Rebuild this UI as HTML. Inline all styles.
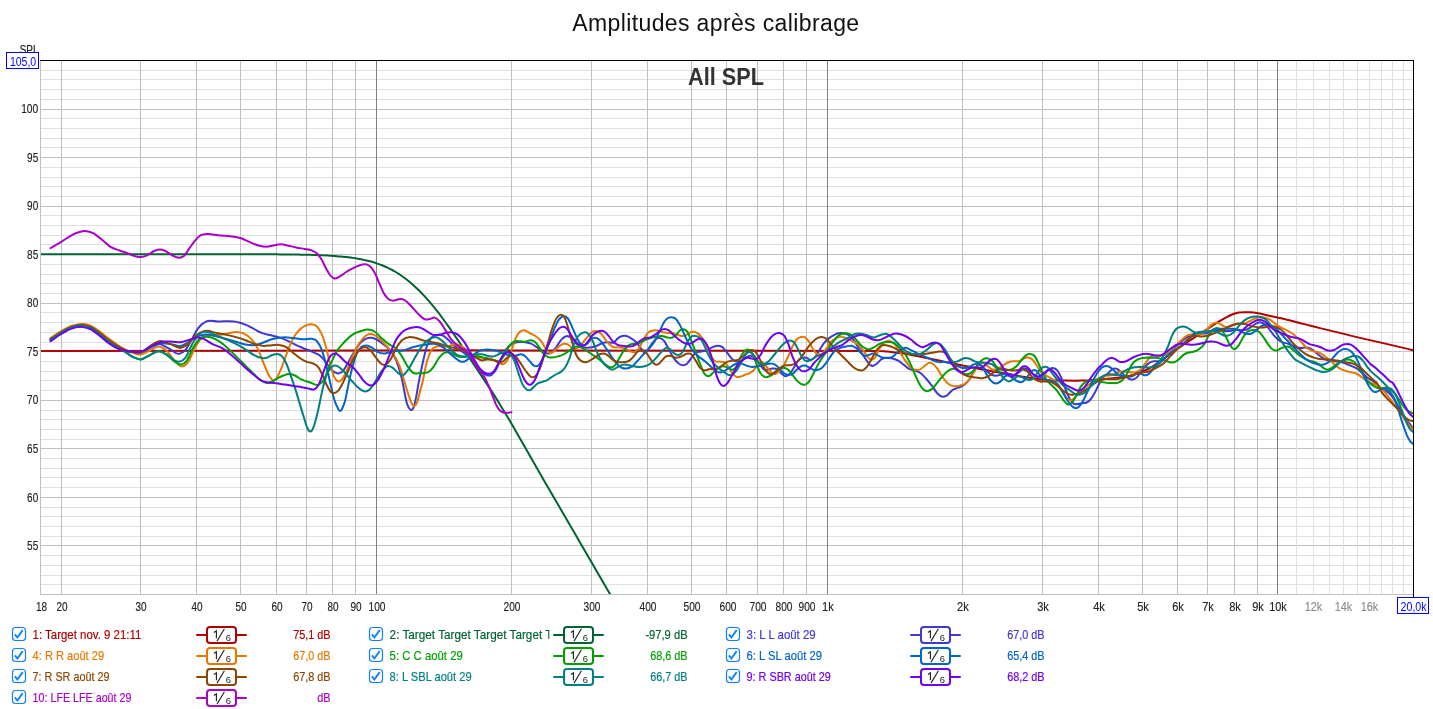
<!DOCTYPE html>
<html><head><meta charset="utf-8"><title>Amplitudes après calibrage</title>
<style>
html,body{margin:0;padding:0;background:#fff;}
body{width:1433px;height:709px;overflow:hidden;font-family:"Liberation Sans",sans-serif;}
svg{display:block;will-change:transform;font-family:"Liberation Sans",sans-serif;}
.ax{font-size:12.5px;fill:#222;stroke:#222;stroke-width:0.15px;}
.ax.g{fill:#8c8c8c;stroke:#8c8c8c;}
.lg{font-size:12.8px;stroke-width:0.18px;}
.cv path{fill:none;stroke-width:2;stroke-linejoin:round;stroke-linecap:round;}
</style></head><body>
<svg width="1433" height="709" viewBox="0 0 1433 709">
<defs><clipPath id="pc"><rect x="41" y="61" width="1372" height="533"/></clipPath>
<clipPath id="c2"><rect x="380" y="620" width="169.5" height="30"/></clipPath></defs>
<rect width="1433" height="709" fill="#fff"/>
<text x="572.3" y="30.6" font-size="23" fill="#111" textLength="286.8" lengthAdjust="spacing">Amplitudes après calibrage</text>
<text x="19.7" y="53.8" font-size="12.5" fill="#222" stroke="#222" stroke-width="0.2" textLength="18.9" lengthAdjust="spacingAndGlyphs">SPL</text>
<g shape-rendering="crispEdges">
<line x1="40" x2="1413" y1="584.5" y2="584.5" stroke="#e0e0e0"/>
<line x1="40" x2="1413" y1="575.5" y2="575.5" stroke="#e0e0e0"/>
<line x1="40" x2="1413" y1="565.5" y2="565.5" stroke="#e0e0e0"/>
<line x1="40" x2="1413" y1="555.5" y2="555.5" stroke="#e0e0e0"/>
<line x1="40" x2="1413" y1="545.5" y2="545.5" stroke="#c0c0c0"/>
<line x1="40" x2="1413" y1="536.5" y2="536.5" stroke="#e0e0e0"/>
<line x1="40" x2="1413" y1="526.5" y2="526.5" stroke="#e0e0e0"/>
<line x1="40" x2="1413" y1="516.5" y2="516.5" stroke="#e0e0e0"/>
<line x1="40" x2="1413" y1="507.5" y2="507.5" stroke="#e0e0e0"/>
<line x1="40" x2="1413" y1="497.5" y2="497.5" stroke="#c0c0c0"/>
<line x1="40" x2="1413" y1="487.5" y2="487.5" stroke="#e0e0e0"/>
<line x1="40" x2="1413" y1="477.5" y2="477.5" stroke="#e0e0e0"/>
<line x1="40" x2="1413" y1="468.5" y2="468.5" stroke="#e0e0e0"/>
<line x1="40" x2="1413" y1="458.5" y2="458.5" stroke="#e0e0e0"/>
<line x1="40" x2="1413" y1="448.5" y2="448.5" stroke="#c0c0c0"/>
<line x1="40" x2="1413" y1="439.5" y2="439.5" stroke="#e0e0e0"/>
<line x1="40" x2="1413" y1="429.5" y2="429.5" stroke="#e0e0e0"/>
<line x1="40" x2="1413" y1="419.5" y2="419.5" stroke="#e0e0e0"/>
<line x1="40" x2="1413" y1="410.5" y2="410.5" stroke="#e0e0e0"/>
<line x1="40" x2="1413" y1="400.5" y2="400.5" stroke="#c0c0c0"/>
<line x1="40" x2="1413" y1="390.5" y2="390.5" stroke="#e0e0e0"/>
<line x1="40" x2="1413" y1="380.5" y2="380.5" stroke="#e0e0e0"/>
<line x1="40" x2="1413" y1="371.5" y2="371.5" stroke="#e0e0e0"/>
<line x1="40" x2="1413" y1="361.5" y2="361.5" stroke="#e0e0e0"/>
<line x1="40" x2="1413" y1="351.5" y2="351.5" stroke="#c0c0c0"/>
<line x1="40" x2="1413" y1="342.5" y2="342.5" stroke="#e0e0e0"/>
<line x1="40" x2="1413" y1="332.5" y2="332.5" stroke="#e0e0e0"/>
<line x1="40" x2="1413" y1="322.5" y2="322.5" stroke="#e0e0e0"/>
<line x1="40" x2="1413" y1="312.5" y2="312.5" stroke="#e0e0e0"/>
<line x1="40" x2="1413" y1="303.5" y2="303.5" stroke="#c0c0c0"/>
<line x1="40" x2="1413" y1="293.5" y2="293.5" stroke="#e0e0e0"/>
<line x1="40" x2="1413" y1="283.5" y2="283.5" stroke="#e0e0e0"/>
<line x1="40" x2="1413" y1="274.5" y2="274.5" stroke="#e0e0e0"/>
<line x1="40" x2="1413" y1="264.5" y2="264.5" stroke="#e0e0e0"/>
<line x1="40" x2="1413" y1="254.5" y2="254.5" stroke="#c0c0c0"/>
<line x1="40" x2="1413" y1="244.5" y2="244.5" stroke="#e0e0e0"/>
<line x1="40" x2="1413" y1="235.5" y2="235.5" stroke="#e0e0e0"/>
<line x1="40" x2="1413" y1="225.5" y2="225.5" stroke="#e0e0e0"/>
<line x1="40" x2="1413" y1="215.5" y2="215.5" stroke="#e0e0e0"/>
<line x1="40" x2="1413" y1="206.5" y2="206.5" stroke="#c0c0c0"/>
<line x1="40" x2="1413" y1="196.5" y2="196.5" stroke="#e0e0e0"/>
<line x1="40" x2="1413" y1="186.5" y2="186.5" stroke="#e0e0e0"/>
<line x1="40" x2="1413" y1="177.5" y2="177.5" stroke="#e0e0e0"/>
<line x1="40" x2="1413" y1="167.5" y2="167.5" stroke="#e0e0e0"/>
<line x1="40" x2="1413" y1="157.5" y2="157.5" stroke="#c0c0c0"/>
<line x1="40" x2="1413" y1="147.5" y2="147.5" stroke="#e0e0e0"/>
<line x1="40" x2="1413" y1="138.5" y2="138.5" stroke="#e0e0e0"/>
<line x1="40" x2="1413" y1="128.5" y2="128.5" stroke="#e0e0e0"/>
<line x1="40" x2="1413" y1="118.5" y2="118.5" stroke="#e0e0e0"/>
<line x1="40" x2="1413" y1="109.5" y2="109.5" stroke="#c0c0c0"/>
<line x1="40" x2="1413" y1="99.5" y2="99.5" stroke="#e0e0e0"/>
<line x1="40" x2="1413" y1="89.5" y2="89.5" stroke="#e0e0e0"/>
<line x1="40" x2="1413" y1="79.5" y2="79.5" stroke="#e0e0e0"/>
<line x1="40" x2="1413" y1="70.5" y2="70.5" stroke="#e0e0e0"/>
<line x1="1296.5" x2="1296.5" y1="60" y2="594" stroke="#e0e0e0"/>
<line x1="1313.5" x2="1313.5" y1="60" y2="594" stroke="#e0e0e0"/>
<line x1="1329.5" x2="1329.5" y1="60" y2="594" stroke="#e0e0e0"/>
<line x1="1343.5" x2="1343.5" y1="60" y2="594" stroke="#e0e0e0"/>
<line x1="1357.5" x2="1357.5" y1="60" y2="594" stroke="#e0e0e0"/>
<line x1="1369.5" x2="1369.5" y1="60" y2="594" stroke="#e0e0e0"/>
<line x1="1381.5" x2="1381.5" y1="60" y2="594" stroke="#e0e0e0"/>
<line x1="1392.5" x2="1392.5" y1="60" y2="594" stroke="#e0e0e0"/>
<line x1="1403.5" x2="1403.5" y1="60" y2="594" stroke="#e0e0e0"/>
<line x1="61.5" x2="61.5" y1="60" y2="594" stroke="#c0c0c0"/>
<line x1="140.5" x2="140.5" y1="60" y2="594" stroke="#c0c0c0"/>
<line x1="196.5" x2="196.5" y1="60" y2="594" stroke="#c0c0c0"/>
<line x1="240.5" x2="240.5" y1="60" y2="594" stroke="#c0c0c0"/>
<line x1="276.5" x2="276.5" y1="60" y2="594" stroke="#c0c0c0"/>
<line x1="306.5" x2="306.5" y1="60" y2="594" stroke="#c0c0c0"/>
<line x1="332.5" x2="332.5" y1="60" y2="594" stroke="#c0c0c0"/>
<line x1="355.5" x2="355.5" y1="60" y2="594" stroke="#c0c0c0"/>
<line x1="511.5" x2="511.5" y1="60" y2="594" stroke="#c0c0c0"/>
<line x1="591.5" x2="591.5" y1="60" y2="594" stroke="#c0c0c0"/>
<line x1="647.5" x2="647.5" y1="60" y2="594" stroke="#c0c0c0"/>
<line x1="691.5" x2="691.5" y1="60" y2="594" stroke="#c0c0c0"/>
<line x1="726.5" x2="726.5" y1="60" y2="594" stroke="#c0c0c0"/>
<line x1="757.5" x2="757.5" y1="60" y2="594" stroke="#c0c0c0"/>
<line x1="783.5" x2="783.5" y1="60" y2="594" stroke="#c0c0c0"/>
<line x1="806.5" x2="806.5" y1="60" y2="594" stroke="#c0c0c0"/>
<line x1="962.5" x2="962.5" y1="60" y2="594" stroke="#c0c0c0"/>
<line x1="1042.5" x2="1042.5" y1="60" y2="594" stroke="#c0c0c0"/>
<line x1="1098.5" x2="1098.5" y1="60" y2="594" stroke="#c0c0c0"/>
<line x1="1142.5" x2="1142.5" y1="60" y2="594" stroke="#c0c0c0"/>
<line x1="1177.5" x2="1177.5" y1="60" y2="594" stroke="#c0c0c0"/>
<line x1="1207.5" x2="1207.5" y1="60" y2="594" stroke="#c0c0c0"/>
<line x1="1234.5" x2="1234.5" y1="60" y2="594" stroke="#c0c0c0"/>
<line x1="1257.5" x2="1257.5" y1="60" y2="594" stroke="#c0c0c0"/>
<line x1="376.5" x2="376.5" y1="60" y2="594" stroke="#808080"/>
<line x1="827.5" x2="827.5" y1="60" y2="594" stroke="#808080"/>
<line x1="1277.5" x2="1277.5" y1="60" y2="594" stroke="#808080"/>
<line x1="40.5" x2="40.5" y1="60" y2="595" stroke="#c0c0c0"/>
<line x1="40" x2="1414" y1="594.5" y2="594.5" stroke="#c0c0c0"/>
<line x1="40" x2="1414" y1="60.5" y2="60.5" stroke="#000"/>
<line x1="1413.5" x2="1413.5" y1="60" y2="602" stroke="#000"/>
</g>
<text x="688" y="85.3" font-size="24" font-weight="bold" fill="#333" textLength="76" lengthAdjust="spacingAndGlyphs">All SPL</text>
<g class="cv" clip-path="url(#pc)">
<path d="M40.0,351.0 C316.7,351.0 593.3,349.3 870.0,351.0 C873.3,351.0 876.6,350.9 879.9,351.1 C882.2,351.1 884.6,351.3 886.9,351.5 C891.6,351.9 896.3,352.6 901.0,353.3 C905.7,354.0 910.4,354.8 915.1,355.7 C919.9,356.6 924.5,357.6 929.2,358.5 C934.0,359.5 938.7,360.4 943.4,361.4 C946.9,362.1 950.5,363.0 954.1,363.7 C958.8,364.7 963.5,365.6 968.2,366.5 C972.9,367.5 977.6,368.5 982.3,369.4 C987.0,370.3 991.7,371.1 996.4,371.9 C1001.1,372.7 1005.8,373.4 1010.5,374.3 C1015.2,375.2 1019.9,376.3 1024.6,377.1 C1029.3,377.9 1034.0,378.7 1038.7,379.2 C1043.4,379.8 1048.1,380.1 1052.8,380.4 C1057.5,380.6 1062.2,380.6 1066.9,380.6 C1071.6,380.7 1076.3,380.8 1081.0,380.6 C1085.7,380.5 1090.4,380.3 1095.2,379.9 C1099.9,379.6 1104.5,379.0 1109.2,378.5 C1114.0,378.1 1118.7,377.9 1123.4,377.1 C1126.9,376.5 1130.5,375.7 1134.1,374.6 C1138.8,373.2 1143.5,371.4 1148.2,369.0 C1152.9,366.5 1157.6,363.1 1162.3,359.8 C1167.0,356.5 1171.7,352.5 1176.4,349.2 C1181.1,345.9 1185.8,343.1 1190.5,340.1 C1195.2,337.0 1199.9,334.0 1204.6,330.9 C1209.3,327.8 1214.0,324.6 1218.7,321.7 C1221.5,320.0 1224.4,318.2 1227.2,316.8 C1230.0,315.4 1232.8,314.0 1235.7,313.3 C1238.0,312.6 1240.4,312.4 1242.7,312.3 C1245.1,312.1 1247.4,312.2 1249.8,312.3 C1252.6,312.4 1255.4,312.8 1258.2,313.3 C1261.5,313.8 1264.8,314.7 1268.1,315.4 C1271.2,316.1 1274.2,316.8 1277.3,317.5 C1281.3,318.4 1285.3,319.3 1289.3,320.3 C1294.0,321.4 1298.7,322.7 1303.4,323.9 C1308.9,325.3 1314.5,326.7 1320.0,328.1 C1351.0,335.9 1382.0,342.8 1413.0,350.2" stroke="#b00000"/>
<path d="M40.0,254.2 C42.0,254.2 44.0,254.2 46.0,254.2 C48.0,254.2 50.0,254.2 52.0,254.2 C54.0,254.2 56.0,254.2 58.0,254.2 C60.0,254.2 62.0,254.2 64.0,254.2 C66.0,254.2 68.0,254.2 70.0,254.2 C72.0,254.2 74.0,254.2 76.0,254.2 C78.0,254.2 80.0,254.2 82.0,254.2 C84.0,254.2 86.0,254.2 88.0,254.2 C90.0,254.2 92.0,254.2 94.0,254.2 C96.0,254.2 98.0,254.2 100.0,254.2 C102.0,254.2 104.0,254.2 106.0,254.2 C108.0,254.2 110.0,254.2 112.0,254.2 C114.0,254.2 116.0,254.2 118.0,254.2 C120.0,254.2 122.0,254.2 124.0,254.2 C126.0,254.2 128.0,254.2 130.0,254.2 C132.0,254.2 134.0,254.2 136.0,254.2 C138.0,254.2 140.0,254.2 142.0,254.2 C144.0,254.2 146.0,254.2 148.0,254.2 C150.0,254.2 152.0,254.2 154.0,254.2 C156.0,254.2 158.0,254.2 160.0,254.2 C162.0,254.2 164.0,254.2 166.0,254.2 C168.0,254.2 170.0,254.2 172.0,254.2 C174.0,254.2 176.0,254.2 178.0,254.2 C180.0,254.2 182.0,254.2 184.0,254.2 C186.0,254.2 188.0,254.2 190.0,254.2 C192.0,254.2 194.0,254.2 196.0,254.2 C198.0,254.2 200.0,254.2 202.0,254.2 C204.0,254.2 206.0,254.2 208.0,254.2 C210.0,254.2 212.0,254.2 214.0,254.2 C216.0,254.2 218.0,254.2 220.0,254.2 C222.0,254.2 224.0,254.2 226.0,254.2 C228.0,254.2 230.0,254.2 232.0,254.2 C234.0,254.2 236.0,254.2 238.0,254.2 C240.0,254.2 242.0,254.2 244.0,254.2 C246.0,254.2 248.0,254.2 250.0,254.2 C252.0,254.2 254.0,254.2 256.0,254.2 C258.0,254.3 260.0,254.3 262.0,254.3 C264.0,254.3 266.0,254.3 268.0,254.3 C270.0,254.3 272.0,254.3 274.0,254.3 C276.0,254.3 278.0,254.4 280.0,254.4 C282.0,254.4 284.0,254.4 286.0,254.4 C288.0,254.5 290.0,254.5 292.0,254.5 C294.0,254.5 296.0,254.6 298.0,254.6 C300.0,254.6 302.0,254.7 304.0,254.7 C306.0,254.7 308.0,254.8 310.0,254.8 C312.0,254.9 314.0,255.0 316.0,255.0 C318.0,255.1 320.0,255.2 322.0,255.3 C324.0,255.3 326.0,255.4 328.0,255.6 C330.0,255.7 332.0,255.8 334.0,255.9 C336.0,256.1 338.0,256.2 340.0,256.4 C342.0,256.6 344.0,256.8 346.0,257.0 C348.0,257.2 350.0,257.5 352.0,257.8 C354.0,258.0 356.0,258.3 358.0,258.7 C360.0,259.0 362.0,259.4 364.0,259.9 C366.0,260.3 368.0,260.8 370.0,261.3 C372.0,261.8 374.0,262.4 376.0,263.1 C378.0,263.8 380.0,264.5 382.0,265.3 C384.0,266.1 386.0,266.9 388.0,267.9 C390.0,268.8 392.0,269.9 394.0,271.0 C396.0,272.2 398.0,273.4 400.0,274.7 C402.0,276.1 404.0,277.5 406.0,279.0 C408.0,280.5 410.0,282.2 412.0,283.9 C414.0,285.7 416.0,287.5 418.0,289.5 C420.0,291.4 422.0,293.5 424.0,295.6 C426.0,297.8 428.0,300.1 430.0,302.4 C432.0,304.7 434.0,307.2 436.0,309.7 C438.0,312.2 440.0,314.8 442.0,317.5 C444.0,320.2 446.0,323.0 448.0,325.8 C450.0,328.6 452.0,331.5 454.0,334.4 C456.0,337.3 458.0,340.3 460.0,343.3 C462.0,346.4 464.0,349.5 466.0,352.6 C468.0,355.6 470.0,358.7 472.0,361.8 C474.0,364.8 476.0,367.7 478.0,370.7 C480.0,373.7 482.0,376.7 484.0,379.7 C486.0,382.7 488.0,385.8 490.0,388.9 C492.0,391.9 494.0,394.9 496.0,398.1 C498.0,401.2 500.0,404.6 502.0,407.9 C504.0,411.1 506.0,414.4 508.0,417.8 C510.0,421.1 512.0,424.5 514.0,427.9 C516.0,431.4 518.0,434.9 520.0,438.4 C522.0,442.0 524.0,445.5 526.0,449.0 C528.0,452.5 530.0,456.0 532.0,459.6 C534.0,463.1 536.0,466.5 538.0,470.0 C540.0,473.5 542.0,477.0 544.0,480.5 C546.0,484.0 548.0,487.4 550.0,490.8 C552.0,494.3 554.0,497.7 556.0,501.1 C558.0,504.6 560.0,508.0 562.0,511.5 C564.0,514.9 566.0,518.3 568.0,521.8 C570.0,525.2 572.0,528.7 574.0,532.1 C576.0,535.6 578.0,539.0 580.0,542.5 C582.0,545.9 584.0,549.3 586.0,552.8 C588.0,556.2 590.0,559.7 592.0,563.1 C594.0,566.6 596.0,570.0 598.0,573.5 C600.0,576.9 602.0,580.3 604.0,583.8 C606.0,587.2 608.0,590.7 610.0,594.1 C612.0,597.6 614.0,601.0 616.0,604.5" stroke="#006432"/>
<path d="M50.6,340.3 C54.1,338.0 57.6,335.3 61.2,333.3 C64.9,331.1 68.7,328.7 72.4,327.6 C75.7,326.7 79.0,326.2 82.3,326.5 C85.1,326.7 88.0,327.3 90.8,328.6 C93.6,330.0 96.4,332.5 99.2,334.7 C102.1,336.9 104.9,339.7 107.7,341.7 C110.5,343.8 113.3,345.5 116.2,346.9 C119.0,348.4 121.8,349.6 124.6,350.5 C127.5,351.3 130.3,351.7 133.1,352.0 C135.7,352.3 138.3,352.9 140.8,352.3 C143.9,351.6 147.0,348.8 150.0,347.4 C152.8,346.0 155.7,343.9 158.5,343.9 C161.8,343.8 165.1,346.6 168.3,348.1 C172.1,349.8 175.9,354.7 179.6,353.7 C181.5,353.3 183.4,352.3 185.3,350.2 C187.2,348.1 189.0,344.2 190.9,341.0 C193.3,337.0 195.6,331.5 198.0,328.3 C200.8,324.5 203.6,322.6 206.4,321.3 C210.2,319.5 214.0,321.5 217.7,321.6 C224.1,321.7 230.5,320.3 236.9,321.9 C239.8,322.5 242.6,323.5 245.4,324.7 C248.2,325.9 251.0,327.5 253.8,328.9 C256.7,330.3 259.5,332.1 262.3,333.1 C265.1,334.2 268.0,334.6 270.8,335.3 C273.6,336.0 276.4,336.4 279.2,337.4 C282.1,338.3 284.9,339.6 287.7,340.9 C290.5,342.2 293.3,343.8 296.2,345.1 C299.0,346.4 301.8,347.5 304.6,348.7 C307.4,349.8 310.3,350.9 313.1,352.2 C315.4,353.3 317.8,353.7 320.1,355.7 C322.0,357.3 323.9,359.7 325.8,362.1 C327.7,364.4 329.5,367.9 331.4,369.8 C333.3,371.7 335.2,373.1 337.1,373.3 C338.9,373.6 340.8,373.1 342.7,371.2 C344.6,369.4 346.5,365.2 348.4,362.1 C350.2,358.9 352.1,355.2 354.0,352.2 C356.3,348.4 358.7,344.7 361.0,342.3 C362.9,340.4 364.8,339.1 366.7,338.4 C368.3,337.7 370.0,337.6 371.6,337.8 C373.3,338.0 374.9,338.7 376.6,339.5 C378.9,340.6 381.3,342.5 383.6,344.4 C386.0,346.3 388.3,347.6 390.7,350.8 C392.5,353.4 394.4,356.0 396.3,360.6 C398.2,365.4 400.1,371.2 401.9,379.0 C403.6,386.0 405.4,399.2 407.1,404.0 C407.6,405.5 408.2,406.6 408.7,407.5 C409.2,408.3 409.7,408.9 410.2,409.3 C410.6,409.8 411.1,410.1 411.6,410.0 C411.9,410.0 412.3,409.7 412.7,409.2 C413.1,408.7 413.4,407.8 413.8,406.8 C414.6,404.6 415.4,400.9 416.2,396.9 C416.9,393.4 417.6,388.5 418.3,384.6 C419.8,376.8 421.2,369.8 422.6,363.5 C424.0,357.1 425.4,350.8 426.8,346.5 C428.2,342.3 429.6,340.0 431.0,338.1 C432.9,335.5 434.8,335.7 436.7,335.3 C438.6,334.8 440.4,334.6 442.3,335.3 C444.2,336.0 446.1,337.8 447.9,339.5 C449.8,341.1 451.7,343.5 453.6,345.1 C455.5,346.8 457.4,348.0 459.2,349.4 C461.1,350.8 463.0,352.2 464.9,353.6 C466.8,355.0 468.6,355.9 470.5,357.8 C472.4,359.7 474.3,362.5 476.2,364.9 C478.0,367.2 479.9,370.2 481.8,371.9 C483.7,373.7 485.6,375.1 487.4,375.5 C488.9,375.7 490.3,375.7 491.7,374.8 C493.1,373.8 494.5,372.2 495.9,369.8 C497.3,367.5 498.7,363.6 500.1,360.6 C501.6,357.7 503.0,354.5 504.4,352.2 C505.8,349.8 507.2,348.0 508.6,346.5 C510.5,344.6 512.4,343.8 514.2,343.0 C516.1,342.3 518.0,342.1 519.9,342.0 C521.8,341.9 523.6,342.0 525.5,342.3 C527.4,342.6 529.3,342.9 531.2,343.7 C533.0,344.5 534.9,346.0 536.8,347.2 C538.7,348.5 540.6,350.4 542.5,351.5 C544.3,352.5 546.2,353.7 548.1,353.6 C549.5,353.6 550.9,353.4 552.3,352.2 C553.7,351.0 555.1,348.4 556.6,346.5 C558.4,344.0 560.3,340.6 562.2,338.8 C563.8,337.2 565.5,336.0 567.1,336.0 C568.5,336.0 570.0,337.0 571.4,338.1 C573.0,339.4 574.7,342.3 576.3,343.7 C578.7,345.8 581.0,346.6 583.4,347.2 C587.9,348.6 592.4,347.6 596.9,345.8 C598.8,345.1 600.7,343.6 602.6,343.0 C604.5,342.4 606.3,342.4 608.2,342.3 C610.1,342.2 612.0,343.4 613.9,342.3 C615.3,341.5 616.7,339.1 618.1,338.1 C619.5,337.0 620.9,336.3 622.3,336.0 C623.7,335.6 625.1,335.6 626.5,336.0 C628.0,336.3 629.4,337.2 630.8,338.1 C632.7,339.2 634.5,340.3 636.4,342.3 C637.8,343.8 639.2,346.2 640.6,347.9 C642.1,349.7 643.5,353.1 644.9,352.9 C645.8,352.8 646.8,351.2 647.7,350.1 C649.1,348.4 650.5,345.6 651.9,343.7 C653.3,341.8 654.8,339.7 656.2,338.8 C657.6,337.9 659.0,337.6 660.4,338.1 C661.8,338.5 663.2,339.7 664.6,341.6 C666.0,343.5 667.5,346.8 668.9,349.4 C670.3,352.0 671.7,355.0 673.1,357.1 C675.0,360.0 676.9,362.1 678.7,363.5 C680.1,364.5 681.6,365.3 683.0,365.3 C684.4,365.3 685.8,364.7 687.2,363.5 C688.6,362.2 690.0,359.6 691.4,357.8 C692.8,356.1 694.2,354.0 695.7,352.9 C697.5,351.4 699.4,351.9 701.3,351.5 C703.2,351.0 705.1,350.8 706.9,350.1 C708.8,349.4 710.7,348.0 712.6,347.2 C714.5,346.5 716.3,345.7 718.2,345.8 C719.6,346.0 721.0,346.2 722.5,347.2 C723.9,348.3 725.3,350.5 726.7,352.2 C728.6,354.4 730.5,357.6 732.3,359.2 C734.2,360.9 736.1,362.0 738.0,362.1 C739.4,362.1 740.8,361.5 742.2,360.6 C743.6,359.8 745.0,357.9 746.4,357.1 C747.8,356.3 749.2,355.6 750.7,355.7 C752.1,355.8 753.5,356.5 754.9,357.8 C756.3,359.1 757.7,361.6 759.1,363.5 C760.5,365.3 762.0,367.8 763.4,369.1 C766.5,371.9 769.6,368.1 772.7,368.4 C774.1,368.5 775.5,368.3 776.9,369.1 C778.3,369.9 779.8,372.2 781.2,373.3 C782.6,374.5 784.0,376.0 785.4,376.2 C786.8,376.3 788.2,375.5 789.6,374.1 C791.0,372.6 792.4,369.9 793.9,367.7 C795.3,365.5 796.7,362.3 798.1,360.6 C799.5,359.0 800.9,358.3 802.3,357.8 C803.7,357.4 805.1,357.5 806.5,357.8 C808.0,358.2 809.4,360.1 810.8,359.9 C812.2,359.8 813.6,358.6 815.0,357.1 C816.4,355.6 817.8,353.0 819.2,350.8 C820.6,348.5 822.1,345.7 823.5,343.7 C825.4,341.1 827.2,339.6 829.1,338.1 C831.0,336.6 832.9,335.4 834.8,334.6 C836.6,333.7 838.5,333.3 840.4,333.1 C841.8,333.1 843.2,333.1 844.6,333.4 C846.0,333.8 847.5,334.2 848.9,335.3 C850.3,336.3 851.7,337.7 853.1,339.5 C854.5,341.3 855.9,343.6 857.3,345.8 C858.7,348.1 860.1,350.7 861.5,352.9 C863.0,355.1 864.4,357.2 865.8,359.2 C867.2,361.2 868.6,363.8 870.0,364.9 C871.0,365.6 871.9,365.9 872.8,365.9 C874.2,365.8 875.7,364.6 877.1,363.5 C878.5,362.4 879.9,360.2 881.3,359.2 C883.2,358.0 885.1,357.9 886.9,357.8 C888.8,357.7 890.7,358.1 892.6,358.5 C894.5,359.0 896.3,359.6 898.2,360.6 C900.1,361.7 902.0,363.5 903.9,364.9 C905.7,366.3 907.6,368.2 909.5,369.1 C911.4,370.0 913.3,369.8 915.1,370.5 C917.0,371.2 918.9,371.9 920.8,373.3 C922.7,374.8 924.5,376.9 926.4,379.0 C928.3,381.1 930.2,383.6 932.1,386.0 C934.0,388.5 935.8,392.0 937.7,393.8 C939.1,395.2 940.5,396.3 942.0,396.6 C943.4,397.0 944.8,396.6 946.2,395.9 C948.4,394.9 950.5,391.2 952.7,389.8 C954.6,388.6 956.5,388.5 958.3,387.7 C960.2,386.9 962.1,386.3 964.0,384.9 C965.9,383.5 967.7,382.0 969.6,379.2 C971.0,377.2 972.4,373.8 973.9,371.5 C975.3,369.1 976.7,366.0 978.1,365.1 C979.5,364.3 980.9,365.6 982.3,366.5 C983.7,367.5 985.1,369.5 986.5,370.8 C988.0,372.1 989.4,373.5 990.8,374.3 C992.7,375.4 994.5,375.7 996.4,375.7 C998.3,375.7 1000.2,374.7 1002.1,374.3 C1003.9,373.9 1005.8,373.5 1007.7,373.6 C1009.6,373.7 1011.5,375.2 1013.3,375.0 C1015.2,374.8 1017.1,373.5 1019.0,372.2 C1020.4,371.2 1021.8,369.1 1023.2,368.7 C1024.6,368.2 1026.0,368.7 1027.5,369.4 C1028.9,370.1 1030.3,371.7 1031.7,372.9 C1033.1,374.1 1034.5,375.6 1035.9,376.4 C1037.3,377.2 1038.7,378.2 1040.1,377.8 C1041.5,377.5 1043.0,375.7 1044.4,374.3 C1045.8,372.9 1047.2,370.4 1048.6,369.4 C1050.0,368.3 1051.4,367.8 1052.8,367.9 C1054.2,368.1 1055.7,368.4 1057.1,370.1 C1058.5,371.7 1059.9,374.7 1061.3,377.8 C1062.7,381.0 1064.1,385.6 1065.5,389.1 C1066.9,392.6 1068.3,396.5 1069.8,399.0 C1071.2,401.4 1072.6,403.1 1074.0,403.9 C1075.4,404.7 1076.8,404.0 1078.2,403.9 C1079.6,403.8 1081.0,403.5 1082.5,403.2 C1083.9,403.0 1085.3,403.2 1086.7,402.5 C1088.1,401.8 1089.5,400.7 1090.9,399.0 C1092.3,397.2 1093.7,394.5 1095.2,391.9 C1096.6,389.3 1098.0,385.9 1099.4,383.5 C1100.8,381.0 1102.2,378.8 1103.6,377.1 C1105.0,375.5 1106.4,374.9 1107.8,373.6 C1109.2,372.3 1110.7,370.2 1112.1,369.4 C1113.5,368.5 1114.9,368.3 1116.3,368.7 C1117.7,369.0 1119.1,370.3 1120.5,371.5 C1122.0,372.7 1123.4,374.6 1124.8,375.7 C1127.4,377.9 1130.0,380.0 1132.7,379.6 C1134.1,379.3 1135.5,378.9 1136.9,377.4 C1138.3,376.0 1139.8,373.0 1141.2,371.1 C1142.6,369.2 1144.0,367.6 1145.4,366.2 C1146.8,364.8 1148.2,363.5 1149.6,362.6 C1151.0,361.8 1152.4,361.5 1153.8,361.2 C1155.3,361.0 1156.7,361.3 1158.1,361.2 C1159.5,361.1 1160.9,361.3 1162.3,360.5 C1164.2,359.5 1166.1,356.9 1168.0,354.9 C1169.8,352.9 1171.7,350.4 1173.6,348.5 C1175.5,346.7 1177.4,345.2 1179.2,343.6 C1181.1,342.0 1183.0,340.1 1184.9,338.7 C1186.8,337.2 1188.6,336.0 1190.5,335.1 C1192.4,334.3 1194.3,333.7 1196.2,333.4 C1198.0,333.2 1199.9,333.8 1201.8,333.7 C1203.7,333.6 1205.6,333.5 1207.5,333.0 C1209.3,332.5 1211.2,331.4 1213.1,330.9 C1215.0,330.4 1216.8,330.2 1218.7,330.2 C1220.6,330.2 1222.5,330.8 1224.4,330.9 C1226.2,331.0 1228.1,331.1 1230.0,330.9 C1231.9,330.7 1233.8,329.6 1235.7,329.5 C1237.5,329.4 1239.4,330.2 1241.3,330.2 C1243.2,330.2 1245.1,330.2 1246.9,329.5 C1248.8,328.8 1250.7,327.2 1252.6,326.0 C1254.0,325.1 1255.4,323.7 1256.8,323.1 C1258.2,322.6 1259.6,322.2 1261.0,322.4 C1262.5,322.7 1263.9,323.4 1265.3,324.6 C1266.7,325.7 1268.1,327.7 1269.5,329.5 C1270.9,331.3 1272.3,333.5 1273.7,335.1 C1275.2,336.8 1276.6,338.2 1278.0,339.4 C1279.4,340.5 1280.8,341.5 1282.2,342.2 C1284.3,343.2 1286.4,343.0 1288.5,343.9 C1289.9,344.4 1291.3,345.4 1292.7,346.0 C1294.1,346.6 1295.5,347.2 1296.9,347.6 C1298.3,347.9 1299.8,348.1 1301.2,348.1 C1302.6,348.1 1304.0,347.6 1305.4,347.6 C1306.8,347.6 1308.2,347.6 1309.6,348.1 C1311.0,348.6 1312.4,349.7 1313.8,350.7 C1315.3,351.8 1316.7,353.3 1318.1,354.4 C1319.5,355.6 1320.9,356.7 1322.3,357.6 C1323.7,358.5 1325.1,359.2 1326.5,359.7 C1328.0,360.3 1329.4,360.5 1330.8,360.8 C1332.2,361.0 1333.6,361.1 1335.0,361.3 C1336.4,361.5 1337.8,361.6 1339.2,361.8 C1340.7,362.1 1342.1,362.4 1343.5,362.9 C1344.9,363.3 1346.3,364.0 1347.7,364.5 C1349.1,365.0 1350.5,365.4 1351.9,366.1 C1353.3,366.7 1354.8,367.3 1356.2,368.2 C1357.6,369.1 1359.0,370.2 1360.4,371.4 C1361.8,372.5 1363.2,373.8 1364.6,375.1 C1366.0,376.3 1367.5,377.8 1368.9,378.8 C1369.9,379.5 1371.0,379.6 1372.0,380.4 C1373.1,381.1 1374.1,382.1 1375.2,383.0 C1377.3,384.8 1379.4,387.3 1381.5,388.8 C1383.0,389.7 1384.4,390.0 1385.8,390.9 C1387.2,391.8 1388.6,392.6 1390.0,394.0 C1391.4,395.5 1392.8,397.2 1394.2,399.3 C1395.7,401.4 1397.1,404.3 1398.5,406.7 C1399.9,409.2 1401.3,411.8 1402.7,414.1 C1404.1,416.4 1405.5,418.6 1406.9,420.5 C1408.4,422.4 1409.8,423.9 1411.2,425.8 C1411.7,426.5 1412.2,427.2 1412.8,427.9" stroke="#4038d4"/>
<path d="M50.6,337.9 C54.1,335.7 57.6,333.1 61.2,331.2 C64.9,329.1 68.7,327.0 72.4,325.8 C76.2,324.6 80.0,323.7 83.7,324.1 C86.5,324.4 89.4,325.3 92.2,326.6 C95.0,328.0 97.8,330.2 100.7,332.3 C103.5,334.3 106.3,336.8 109.1,338.9 C111.9,341.0 114.8,343.1 117.6,345.0 C120.4,346.8 123.2,348.5 126.0,349.9 C128.9,351.3 131.7,352.7 134.5,353.4 C136.6,354.0 138.7,354.8 140.8,354.6 C143.4,354.3 146.0,352.4 148.6,351.2 C151.9,349.7 155.2,346.2 158.5,346.4 C161.3,346.6 164.1,348.4 166.9,350.9 C169.8,353.4 172.6,358.8 175.4,361.5 C177.8,363.7 180.1,366.7 182.4,366.4 C184.3,366.2 186.2,364.7 188.1,362.2 C190.4,359.0 192.8,351.5 195.2,347.4 C197.5,343.3 199.8,339.5 202.2,337.5 C204.5,335.5 206.9,335.8 209.2,335.4 C212.1,334.9 214.9,335.4 217.7,335.1 C220.5,334.8 223.4,334.2 226.2,333.7 C229.8,333.1 233.3,331.8 236.9,332.0 C239.3,332.2 241.6,332.4 244.0,333.6 C246.3,334.7 248.7,336.2 251.0,338.8 C253.4,341.4 255.7,344.5 258.1,349.4 C260.0,353.2 261.8,359.0 263.7,363.5 C265.6,367.9 267.5,373.3 269.4,376.2 C270.8,378.3 272.2,380.4 273.6,380.4 C275.0,380.4 276.4,378.5 277.8,376.2 C279.2,373.8 280.6,369.8 282.1,366.3 C283.9,361.6 285.8,355.5 287.7,350.8 C289.6,346.1 291.5,341.5 293.3,338.1 C295.2,334.7 297.1,332.3 299.0,330.3 C301.3,327.8 303.7,326.4 306.0,325.4 C307.9,324.6 309.8,324.0 311.7,324.3 C313.6,324.5 315.4,324.6 317.3,326.8 C318.7,328.4 320.1,330.6 321.6,333.9 C323.0,337.1 324.4,341.6 325.8,346.5 C327.2,351.5 328.6,358.4 330.0,363.5 C331.4,368.5 332.8,373.9 334.2,376.9 C335.7,379.9 337.1,381.3 338.5,381.5 C339.9,381.8 341.3,380.1 342.7,378.3 C344.1,376.4 345.5,373.5 346.9,370.5 C348.8,366.5 350.7,360.7 352.6,356.4 C354.5,352.2 356.3,348.3 358.2,345.1 C360.1,342.0 362.0,339.2 363.9,337.4 C365.7,335.5 367.6,334.5 369.5,334.1 C370.9,333.9 372.3,334.0 373.7,334.6 C375.6,335.3 377.5,337.2 379.4,338.8 C381.7,340.8 384.1,343.3 386.4,345.8 C388.8,348.4 391.1,350.6 393.5,354.3 C395.4,357.3 397.2,360.3 399.1,364.9 C402.0,371.8 404.9,384.3 407.8,392.7 C408.9,396.1 410.1,400.2 411.3,402.6 C411.8,403.6 412.3,404.7 412.8,405.2 C413.3,405.7 413.7,406.1 414.1,406.1 C414.6,406.1 415.0,405.8 415.5,405.2 C416.0,404.7 416.5,403.7 416.9,402.6 C418.1,399.8 419.3,394.2 420.4,389.9 C421.2,387.2 421.9,384.7 422.6,381.8 C424.0,376.0 425.4,367.2 426.8,362.1 C428.2,356.9 429.6,353.4 431.0,350.8 C432.9,347.3 434.8,347.2 436.7,346.5 C438.6,345.8 440.4,346.5 442.3,346.5 C444.2,346.5 446.1,346.9 447.9,346.5 C449.8,346.2 451.7,344.7 453.6,344.4 C455.5,344.2 457.4,344.4 459.2,345.1 C461.1,345.8 463.0,347.2 464.9,348.7 C466.8,350.1 468.6,352.3 470.5,353.6 C472.4,354.9 474.3,355.7 476.2,356.4 C478.0,357.1 479.9,357.5 481.8,357.8 C483.7,358.2 485.6,358.2 487.4,358.5 C489.3,358.9 491.2,359.2 493.1,359.9 C495.0,360.6 496.9,362.0 498.7,362.8 C500.1,363.3 501.6,364.5 503.0,364.2 C504.4,363.8 505.8,362.9 507.2,360.6 C508.6,358.4 510.0,354.5 511.4,350.8 C512.8,347.0 514.2,341.3 515.7,338.1 C517.1,334.9 518.5,333.0 519.9,331.7 C521.3,330.4 522.7,330.3 524.1,330.3 C526.0,330.4 527.9,332.2 529.8,333.1 C531.6,334.1 533.5,334.7 535.4,336.0 C537.3,337.3 539.2,338.4 541.0,340.9 C542.5,342.8 543.9,346.0 545.3,347.9 C546.7,349.9 548.1,352.3 549.5,352.9 C550.7,353.4 551.9,352.8 553.0,352.2 C554.7,351.3 556.3,348.6 558.0,347.2 C559.9,345.7 561.7,344.0 563.6,343.7 C565.0,343.5 566.4,343.7 567.8,344.4 C569.2,345.1 570.7,347.2 572.1,347.9 C573.5,348.7 574.9,349.1 576.3,348.7 C578.2,348.1 580.1,345.7 582.0,343.7 C583.8,341.7 585.7,338.7 587.6,336.7 C589.3,334.8 591.0,332.6 592.7,331.7 C594.1,331.0 595.5,331.0 596.9,331.3 C598.3,331.7 599.8,332.5 601.2,333.9 C602.6,335.2 604.0,337.7 605.4,339.5 C606.8,341.3 608.2,343.1 609.6,344.4 C611.0,345.7 612.4,346.7 613.9,347.2 C615.7,348.0 617.6,347.0 619.5,347.2 C621.4,347.5 623.2,348.0 625.1,348.7 C627.0,349.4 628.9,351.0 630.8,351.5 C632.2,351.9 633.6,352.5 635.0,351.9 C636.4,351.3 637.8,350.0 639.2,347.9 C640.6,345.9 642.1,342.0 643.5,339.5 C644.9,337.0 646.3,334.6 647.7,333.1 C649.1,331.7 650.5,331.2 651.9,330.8 C653.3,330.3 654.8,330.2 656.2,330.3 C657.6,330.5 659.0,331.4 660.4,331.7 C662.3,332.2 664.2,332.5 666.0,332.7 C667.9,333.0 669.8,332.8 671.7,333.1 C673.6,333.5 675.4,334.0 677.3,334.6 C678.7,335.0 680.1,335.9 681.5,336.0 C683.0,336.1 684.4,335.8 685.8,335.3 C687.2,334.7 688.6,333.0 690.0,332.4 C691.4,331.9 692.8,331.5 694.2,331.7 C695.7,332.0 697.1,332.7 698.5,333.9 C699.9,335.0 701.3,336.7 702.7,338.8 C704.1,340.9 705.5,343.6 706.9,346.5 C708.4,349.5 709.8,354.0 711.2,356.4 C712.6,358.9 714.0,360.5 715.4,361.4 C716.8,362.2 718.2,361.5 719.6,361.6 C721.0,361.8 722.5,361.3 723.9,362.1 C725.3,362.8 726.7,364.4 728.1,366.3 C729.5,368.2 730.9,371.6 732.3,373.3 C733.7,375.1 735.1,376.3 736.6,376.9 C738.0,377.4 739.4,376.9 740.8,376.6 C742.2,376.2 743.6,375.3 745.0,374.8 C746.4,374.2 747.8,374.0 749.2,373.3 C750.7,372.6 752.1,371.9 753.5,370.5 C754.9,369.1 756.3,366.3 757.7,364.9 C759.1,363.5 760.5,361.8 762.0,362.1 C763.4,362.3 764.8,364.9 766.2,366.3 C768.8,368.9 771.5,373.9 774.1,374.1 C776.0,374.1 777.9,372.5 779.8,370.5 C781.2,369.1 782.6,367.2 784.0,364.9 C785.4,362.5 786.8,359.5 788.2,356.4 C789.6,353.4 791.0,349.4 792.4,346.5 C793.9,343.7 795.3,341.1 796.7,339.5 C798.1,337.9 799.5,337.3 800.9,336.9 C802.3,336.6 803.7,336.5 805.1,337.4 C806.5,338.3 808.0,340.2 809.4,342.3 C810.8,344.4 812.2,348.1 813.6,350.1 C815.0,352.1 816.4,353.7 817.8,354.3 C819.2,354.9 820.6,354.5 822.1,353.6 C823.5,352.7 824.9,350.5 826.3,348.7 C827.7,346.8 829.1,344.0 830.5,342.3 C832.4,340.1 834.3,339.0 836.2,338.1 C838.0,337.1 839.9,336.6 841.8,336.7 C843.7,336.8 845.6,338.0 847.5,338.8 C849.3,339.6 851.2,340.6 853.1,341.6 C855.0,342.7 856.9,343.4 858.7,345.1 C860.6,346.9 862.5,349.8 864.4,352.2 C866.2,354.5 868.1,358.4 870.0,359.2 C871.4,359.9 872.8,359.9 874.2,358.5 C875.7,357.1 877.1,353.2 878.5,350.8 C879.9,348.3 881.3,345.4 882.7,343.7 C884.1,342.1 885.5,341.3 886.9,340.9 C888.4,340.5 889.8,340.9 891.2,341.6 C892.6,342.3 894.0,343.5 895.4,345.1 C896.8,346.8 898.2,349.3 899.6,351.5 C901.5,354.4 903.4,357.9 905.3,360.6 C907.2,363.4 909.0,366.1 910.9,367.7 C912.8,369.3 914.7,370.0 916.6,370.1 C918.0,370.2 919.4,369.9 920.8,369.1 C922.2,368.4 923.6,366.6 925.0,365.6 C926.4,364.5 927.8,363.0 929.2,362.8 C930.7,362.5 932.1,363.1 933.5,364.2 C934.9,365.2 936.3,367.1 937.7,369.1 C939.1,371.1 940.5,374.1 942.0,376.2 C943.8,379.0 945.7,381.5 947.6,383.2 C949.8,385.2 951.9,386.0 954.1,386.3 C956.0,386.6 957.9,386.1 959.8,385.6 C961.6,385.1 963.5,384.8 965.4,383.5 C966.8,382.4 968.2,381.1 969.6,379.2 C971.0,377.4 972.4,374.4 973.9,372.2 C975.3,370.0 976.7,367.4 978.1,365.8 C979.5,364.3 980.9,363.1 982.3,363.0 C983.7,362.9 985.1,364.3 986.5,365.1 C988.4,366.3 990.3,368.8 992.2,369.4 C994.1,370.0 996.0,369.4 997.8,368.7 C999.7,368.0 1001.6,366.2 1003.5,365.1 C1005.4,364.0 1007.2,362.7 1009.1,362.0 C1011.0,361.4 1012.9,361.4 1014.8,361.2 C1016.6,361.0 1018.5,361.7 1020.4,360.9 C1021.8,360.3 1023.2,358.6 1024.6,358.1 C1026.0,357.6 1027.5,357.4 1028.9,357.8 C1030.3,358.2 1031.7,358.7 1033.1,360.2 C1034.5,361.7 1035.9,364.4 1037.3,366.5 C1038.7,368.7 1040.1,371.3 1041.5,372.9 C1043.4,375.0 1045.3,375.4 1047.2,376.4 C1049.1,377.5 1051.0,377.8 1052.8,379.2 C1054.7,380.7 1056.6,382.3 1058.5,384.9 C1059.9,386.8 1061.3,389.7 1062.7,391.9 C1064.1,394.2 1065.5,396.9 1066.9,398.3 C1068.4,399.7 1069.8,400.7 1071.2,400.4 C1072.1,400.2 1073.0,399.1 1074.0,398.3 C1075.4,397.0 1076.8,394.8 1078.2,393.3 C1080.1,391.4 1082.0,389.9 1083.9,388.4 C1085.7,386.9 1087.6,385.6 1089.5,384.2 C1091.4,382.8 1093.3,381.1 1095.2,379.9 C1097.0,378.8 1098.9,377.8 1100.8,377.1 C1102.7,376.4 1104.5,376.1 1106.4,375.7 C1108.3,375.4 1110.2,375.6 1112.1,375.0 C1114.0,374.4 1115.8,372.8 1117.7,372.2 C1119.6,371.6 1121.5,371.6 1123.4,371.5 C1127.9,371.1 1132.4,374.1 1136.9,371.8 C1138.3,371.1 1139.8,370.4 1141.2,369.0 C1142.6,367.6 1144.0,365.2 1145.4,363.3 C1146.8,361.5 1148.2,359.0 1149.6,357.7 C1151.0,356.4 1152.4,355.9 1153.8,355.6 C1155.7,355.1 1157.6,356.1 1159.5,356.0 C1161.4,355.9 1163.2,355.8 1165.1,354.9 C1167.0,354.0 1168.9,352.3 1170.8,350.6 C1172.7,349.0 1174.5,346.9 1176.4,345.0 C1178.3,343.1 1180.2,341.0 1182.1,339.4 C1183.9,337.7 1185.8,336.0 1187.7,335.1 C1189.6,334.3 1191.5,334.5 1193.3,334.4 C1195.2,334.4 1197.1,335.3 1199.0,334.9 C1200.4,334.5 1201.8,334.0 1203.2,333.0 C1204.6,332.0 1206.0,330.2 1207.5,328.8 C1208.9,327.4 1210.3,325.6 1211.7,324.6 C1213.1,323.5 1214.5,322.8 1215.9,322.7 C1217.3,322.6 1218.7,323.2 1220.1,323.9 C1221.5,324.5 1223.0,325.9 1224.4,326.4 C1225.8,326.9 1227.2,327.1 1228.6,326.9 C1230.0,326.8 1231.4,325.8 1232.8,325.3 C1234.2,324.7 1235.7,324.1 1237.1,323.9 C1238.5,323.6 1239.9,324.0 1241.3,323.9 C1242.7,323.7 1244.1,323.6 1245.5,323.1 C1246.9,322.7 1248.3,321.7 1249.8,321.0 C1251.2,320.3 1252.6,319.5 1254.0,318.9 C1255.4,318.3 1256.8,317.7 1258.2,317.5 C1259.6,317.3 1261.0,317.4 1262.5,317.5 C1263.9,317.6 1265.3,317.7 1266.7,318.2 C1268.1,318.7 1269.5,319.4 1270.9,320.3 C1272.3,321.3 1273.7,322.8 1275.2,323.9 C1277.0,325.3 1278.9,326.3 1280.8,327.4 C1283.3,328.8 1285.9,329.7 1288.5,331.2 C1289.9,332.0 1291.3,332.7 1292.7,333.8 C1294.1,334.9 1295.5,336.2 1296.9,337.5 C1298.3,338.8 1299.8,340.2 1301.2,341.7 C1302.6,343.2 1304.0,345.2 1305.4,346.5 C1306.8,347.8 1308.2,348.9 1309.6,349.7 C1311.0,350.5 1312.4,350.8 1313.8,351.3 C1315.3,351.7 1316.7,351.8 1318.1,352.3 C1319.5,352.8 1320.9,353.5 1322.3,354.4 C1323.7,355.3 1325.1,356.5 1326.5,357.6 C1328.0,358.7 1329.4,360.1 1330.8,361.3 C1332.2,362.5 1333.6,363.9 1335.0,365.0 C1336.4,366.2 1337.8,367.3 1339.2,368.2 C1340.7,369.1 1342.1,369.8 1343.5,370.3 C1344.9,370.8 1346.3,371.0 1347.7,371.4 C1349.1,371.7 1350.5,372.1 1351.9,372.4 C1353.3,372.8 1354.8,372.9 1356.2,373.5 C1357.6,374.1 1359.0,375.1 1360.4,376.1 C1361.8,377.1 1363.2,378.3 1364.6,379.3 C1366.4,380.5 1368.2,381.5 1369.9,382.5 C1373.1,384.2 1376.3,384.0 1379.4,386.6 C1380.9,387.8 1382.3,389.3 1383.7,390.9 C1385.1,392.5 1386.5,394.4 1387.9,396.2 C1389.3,397.9 1390.7,399.6 1392.1,401.4 C1393.5,403.3 1395.0,405.3 1396.4,407.3 C1397.8,409.2 1399.2,411.1 1400.6,413.1 C1402.0,415.1 1403.4,417.4 1404.8,419.4 C1406.2,421.5 1407.6,423.6 1409.1,425.2 C1410.3,426.7 1411.5,427.7 1412.8,428.9" stroke="#e67800"/>
<path d="M50.6,339.9 C54.1,337.7 57.6,335.3 61.2,333.3 C64.9,331.1 68.7,328.8 72.4,327.6 C75.7,326.6 79.0,326.0 82.3,326.2 C85.1,326.4 88.0,327.0 90.8,328.3 C93.6,329.7 96.4,332.1 99.2,334.3 C102.1,336.4 104.9,339.2 107.7,341.3 C110.5,343.4 113.3,345.2 116.2,346.9 C119.0,348.7 121.8,349.9 124.6,351.6 C127.5,353.3 130.3,355.9 133.1,357.2 C135.7,358.4 138.3,359.6 140.8,359.4 C143.4,359.1 146.0,357.0 148.6,355.8 C151.9,354.3 155.2,351.1 158.5,351.2 C161.3,351.3 164.1,353.3 166.9,355.1 C169.8,357.0 172.6,360.5 175.4,362.2 C177.3,363.3 179.2,364.8 181.0,364.6 C182.9,364.3 184.8,363.2 186.7,360.8 C189.0,357.8 191.4,350.4 193.7,346.7 C196.1,342.9 198.4,339.8 200.8,338.2 C202.7,336.9 204.6,336.9 206.4,336.8 C210.2,336.6 214.0,338.4 217.7,340.3 C224.1,343.7 230.5,351.0 236.9,357.1 C239.8,359.8 242.6,362.8 245.4,365.6 C248.2,368.4 251.0,371.4 253.8,374.1 C256.2,376.3 258.5,378.9 260.9,380.4 C262.8,381.6 264.7,382.7 266.5,382.9 C268.4,383.1 270.3,382.3 272.2,381.5 C274.1,380.7 275.9,379.3 277.8,378.3 C279.7,377.3 281.6,376.2 283.5,375.5 C285.4,374.8 287.2,374.1 289.1,374.1 C291.0,374.1 292.9,374.7 294.8,375.5 C297.1,376.4 299.5,378.6 301.8,379.7 C304.6,381.0 307.4,381.7 310.3,382.5 C313.1,383.3 315.9,386.0 318.7,384.6 C320.6,383.7 322.5,382.7 324.4,379.0 C325.8,376.2 327.2,370.9 328.6,367.7 C329.5,365.6 330.5,363.9 331.4,362.1 C333.3,358.3 335.2,353.9 337.1,350.8 C339.4,346.9 341.8,344.8 344.1,342.3 C346.9,339.3 349.8,336.4 352.6,334.6 C355.4,332.7 358.2,331.9 361.0,331.0 C363.4,330.3 365.7,329.5 368.1,329.6 C370.0,329.7 371.9,330.0 373.7,331.0 C376.1,332.3 378.4,335.3 380.8,337.4 C383.6,339.8 386.4,342.4 389.2,344.4 C391.6,346.1 393.9,346.2 396.3,348.7 C398.2,350.6 400.1,353.5 401.9,356.4 C404.1,359.8 406.3,364.7 408.5,367.7 C409.9,369.7 411.3,371.6 412.7,372.6 C414.6,374.0 416.5,373.3 418.3,373.3 C420.2,373.4 422.1,373.4 424.0,373.1 C425.9,372.7 427.7,372.7 429.6,371.2 C431.0,370.1 432.4,368.3 433.9,366.3 C435.3,364.3 436.7,361.2 438.1,359.2 C439.5,357.2 440.9,355.5 442.3,354.3 C443.7,353.1 445.1,352.4 446.5,352.2 C448.0,352.0 449.4,352.5 450.8,352.9 C452.7,353.5 454.5,355.0 456.4,355.7 C458.3,356.4 460.2,357.0 462.1,357.1 C463.9,357.2 465.8,356.7 467.7,356.4 C469.6,356.2 471.5,355.7 473.3,355.7 C475.2,355.7 477.1,356.1 479.0,356.4 C480.9,356.8 482.7,357.4 484.6,357.8 C486.5,358.3 488.4,358.8 490.3,359.2 C492.1,359.7 494.0,360.2 495.9,360.6 C496.9,360.9 497.8,361.6 498.7,361.4 C499.7,361.1 500.6,360.3 501.6,359.2 C503.0,357.7 504.4,354.5 505.8,352.2 C507.2,349.8 508.6,346.9 510.0,345.1 C511.4,343.4 512.8,342.3 514.2,341.6 C516.1,340.7 518.0,341.2 519.9,341.2 C521.8,341.2 523.6,341.8 525.5,341.6 C527.4,341.4 529.3,339.9 531.2,340.2 C532.6,340.5 534.0,341.0 535.4,342.3 C536.8,343.6 538.2,346.0 539.6,347.9 C541.0,349.9 542.5,352.8 543.9,354.3 C545.3,355.8 546.7,356.6 548.1,357.1 C549.5,357.7 550.9,357.6 552.3,357.6 C554.2,357.5 556.1,357.0 558.0,356.4 C559.9,355.9 561.7,355.2 563.6,354.3 C565.5,353.4 567.4,352.2 569.2,350.8 C570.7,349.7 572.1,348.0 573.5,347.2 C574.9,346.5 576.3,346.4 577.7,346.5 C579.1,346.7 580.5,347.3 582.0,347.9 C583.8,348.8 585.7,350.3 587.6,351.5 C590.7,353.5 593.8,355.6 596.9,357.8 C598.8,359.2 600.7,360.6 602.6,362.1 C604.5,363.5 606.3,365.4 608.2,366.3 C609.4,366.9 610.6,367.7 611.7,367.4 C612.9,367.2 614.1,366.2 615.3,364.9 C616.7,363.3 618.1,360.2 619.5,357.8 C620.9,355.5 622.3,352.8 623.7,350.8 C625.1,348.8 626.5,347.0 628.0,345.8 C629.8,344.3 631.7,344.2 633.6,343.7 C635.5,343.3 637.4,343.6 639.2,343.0 C641.1,342.4 643.0,341.0 644.9,340.2 C646.8,339.4 648.6,338.7 650.5,338.1 C652.4,337.5 654.3,337.0 656.2,336.7 C658.0,336.3 659.9,335.9 661.8,336.0 C663.7,336.1 665.6,337.1 667.5,337.4 C668.9,337.6 670.3,338.2 671.7,337.8 C673.1,337.4 674.5,336.5 675.9,335.3 C677.3,334.0 678.7,331.3 680.1,330.3 C681.3,329.5 682.5,329.1 683.7,329.3 C684.8,329.6 686.0,330.1 687.2,331.7 C688.6,333.6 690.0,337.5 691.4,340.9 C692.8,344.3 694.2,348.4 695.7,352.2 C697.1,355.9 698.5,359.9 699.9,363.5 C701.3,367.0 702.7,371.2 704.1,373.3 C705.5,375.5 706.9,376.2 708.4,376.2 C709.8,376.2 711.2,374.5 712.6,373.3 C714.0,372.2 715.4,370.2 716.8,369.1 C718.7,367.6 720.6,366.5 722.5,366.3 C724.3,366.1 726.2,367.0 728.1,367.7 C729.5,368.3 730.9,370.1 732.3,369.8 C733.7,369.6 735.1,368.5 736.6,366.3 C738.0,364.1 739.4,359.0 740.8,356.4 C742.2,353.8 743.6,351.9 745.0,350.8 C746.0,350.1 746.9,349.5 747.8,349.6 C749.2,349.8 750.7,351.3 752.1,353.6 C753.5,355.9 754.9,360.2 756.3,363.5 C757.7,366.8 759.1,371.1 760.5,373.3 C761.9,375.6 763.4,376.2 764.8,376.9 C768.4,378.5 771.9,374.5 775.5,371.9 C776.9,370.9 778.3,369.1 779.8,368.4 C781.2,367.7 782.6,367.5 784.0,367.7 C785.4,367.9 786.8,368.6 788.2,369.8 C789.6,371.0 791.0,373.0 792.4,374.8 C793.9,376.5 795.3,378.9 796.7,380.4 C798.1,381.9 799.5,383.2 800.9,383.9 C802.3,384.6 803.7,385.1 805.1,384.6 C806.5,384.2 808.0,383.0 809.4,381.1 C810.8,379.2 812.2,376.0 813.6,373.3 C815.0,370.6 816.4,367.5 817.8,364.9 C819.2,362.3 820.6,359.9 822.1,357.8 C823.5,355.7 824.9,354.3 826.3,352.2 C827.7,350.1 829.1,347.2 830.5,345.1 C831.9,343.0 833.3,341.1 834.8,339.5 C836.2,337.8 837.6,336.3 839.0,335.3 C840.4,334.2 841.8,333.7 843.2,333.4 C844.6,333.1 846.0,333.1 847.5,333.4 C848.9,333.7 850.3,334.2 851.7,335.3 C853.1,336.3 854.5,338.0 855.9,339.5 C857.3,341.0 858.7,343.0 860.1,344.4 C861.5,345.8 863.0,347.1 864.4,347.9 C865.8,348.8 867.2,349.4 868.6,349.4 C870.0,349.4 871.4,348.6 872.8,347.9 C874.7,347.1 876.6,345.4 878.5,344.4 C880.4,343.5 882.2,342.7 884.1,342.3 C886.0,341.9 887.9,341.8 889.8,342.0 C891.2,342.2 892.6,342.3 894.0,343.0 C895.4,343.8 896.8,345.2 898.2,346.5 C899.6,347.8 901.0,349.1 902.5,350.8 C903.9,352.4 905.3,354.1 906.7,356.4 C908.1,358.8 909.5,361.8 910.9,364.9 C912.3,367.9 913.7,371.6 915.1,374.8 C916.6,377.9 918.0,381.5 919.4,383.9 C920.8,386.4 922.2,388.4 923.6,389.6 C925.0,390.7 926.4,391.1 927.8,391.0 C929.2,390.9 930.7,390.0 932.1,388.9 C933.5,387.7 934.9,385.6 936.3,383.9 C938.2,381.7 940.1,379.0 942.0,376.9 C943.8,374.8 945.7,372.6 947.6,371.2 C949.3,370.0 951.0,368.9 952.7,368.7 C954.1,368.5 955.5,368.8 956.9,369.4 C958.3,370.0 959.8,371.4 961.2,372.2 C963.0,373.2 964.9,374.4 966.8,374.3 C968.2,374.3 969.6,373.8 971.0,372.9 C972.4,371.9 973.9,370.4 975.3,368.7 C976.7,366.9 978.1,364.0 979.5,362.3 C980.9,360.7 982.3,359.4 983.7,358.8 C985.1,358.1 986.5,358.0 988.0,358.4 C989.4,358.7 990.8,359.5 992.2,360.9 C993.6,362.3 995.0,365.1 996.4,366.5 C998.3,368.5 1000.2,369.5 1002.1,370.1 C1003.9,370.7 1005.8,370.3 1007.7,370.1 C1009.6,369.8 1011.5,369.8 1013.3,368.7 C1014.8,367.8 1016.2,366.7 1017.6,365.1 C1019.0,363.6 1020.4,361.1 1021.8,359.5 C1023.2,357.8 1024.6,356.2 1026.0,355.3 C1027.5,354.3 1028.9,353.7 1030.3,353.9 C1031.7,354.0 1033.1,354.3 1034.5,356.0 C1035.9,357.6 1037.3,360.8 1038.7,363.7 C1040.1,366.7 1041.5,370.8 1043.0,373.6 C1044.4,376.4 1045.8,378.8 1047.2,380.6 C1048.6,382.5 1050.0,383.5 1051.4,384.9 C1052.8,386.3 1054.2,387.5 1055.7,389.1 C1057.1,390.8 1058.5,392.8 1059.9,394.8 C1061.3,396.7 1062.7,399.5 1064.1,401.1 C1065.5,402.7 1066.9,404.5 1068.3,404.6 C1069.8,404.7 1071.2,403.5 1072.6,401.8 C1074.0,400.2 1075.4,397.3 1076.8,394.8 C1078.2,392.2 1079.6,388.4 1081.0,386.3 C1082.5,384.2 1083.9,383.0 1085.3,382.1 C1086.7,381.1 1088.1,380.9 1089.5,380.6 C1091.4,380.3 1093.3,380.4 1095.2,380.6 C1097.0,380.9 1098.9,381.7 1100.8,382.1 C1102.7,382.4 1104.5,382.6 1106.4,382.8 C1108.3,382.9 1110.2,383.0 1112.1,383.1 C1114.0,383.1 1115.8,383.3 1117.7,382.8 C1119.1,382.3 1120.5,381.9 1122.0,380.6 C1123.4,379.4 1124.8,377.1 1126.2,375.0 C1128.4,371.7 1130.5,366.0 1132.7,363.3 C1134.1,361.6 1135.5,360.7 1136.9,359.8 C1138.8,358.7 1140.7,358.4 1142.6,358.0 C1144.5,357.6 1146.3,357.5 1148.2,357.4 C1150.1,357.4 1152.0,357.5 1153.8,357.7 C1155.7,357.9 1157.6,357.9 1159.5,358.4 C1161.4,358.9 1163.2,359.9 1165.1,360.5 C1167.0,361.2 1168.9,362.2 1170.8,362.4 C1172.2,362.5 1173.6,362.5 1175.0,361.9 C1176.4,361.4 1177.8,360.3 1179.2,359.1 C1180.7,357.9 1182.1,355.9 1183.5,354.9 C1184.9,353.8 1186.3,353.3 1187.7,352.8 C1189.6,352.1 1191.5,352.4 1193.3,351.8 C1195.2,351.2 1197.1,350.6 1199.0,349.2 C1200.9,347.9 1202.7,346.6 1204.6,343.6 C1206.0,341.4 1207.5,337.5 1208.9,335.1 C1210.3,332.8 1211.7,330.7 1213.1,329.5 C1214.5,328.3 1215.9,328.0 1217.3,328.1 C1218.7,328.2 1220.1,328.8 1221.5,330.2 C1223.0,331.6 1224.4,334.1 1225.8,336.5 C1227.2,339.0 1228.6,342.9 1230.0,345.0 C1231.4,347.1 1232.8,349.1 1234.2,349.2 C1235.7,349.4 1237.1,347.6 1238.5,345.7 C1239.9,343.8 1241.3,340.2 1242.7,337.9 C1244.1,335.7 1245.5,333.6 1246.9,332.3 C1248.4,331.0 1249.8,330.6 1251.2,330.2 C1252.6,329.8 1254.0,329.8 1255.4,330.2 C1256.8,330.6 1258.2,331.0 1259.6,332.3 C1261.0,333.6 1262.5,336.0 1263.9,337.9 C1265.3,340.0 1266.7,342.4 1268.1,344.3 C1269.5,346.2 1270.9,348.2 1272.3,349.2 C1273.7,350.3 1275.1,350.5 1276.6,350.4 C1278.0,350.3 1279.4,349.0 1280.8,348.5 C1283.7,347.5 1286.6,345.4 1289.5,347.0 C1290.6,347.6 1291.6,348.8 1292.7,349.7 C1294.1,350.9 1295.5,352.2 1296.9,353.4 C1298.3,354.5 1299.8,355.6 1301.2,356.5 C1302.6,357.5 1304.0,358.5 1305.4,359.2 C1306.8,359.9 1308.2,360.3 1309.6,360.8 C1311.0,361.2 1312.4,361.3 1313.8,361.8 C1315.3,362.4 1316.7,363.1 1318.1,363.9 C1319.5,364.8 1320.9,366.1 1322.3,367.1 C1323.4,367.9 1324.4,368.9 1325.5,369.2 C1326.5,369.6 1327.6,369.7 1328.7,369.4 C1330.1,369.2 1331.5,368.0 1332.9,367.1 C1334.3,366.2 1335.7,364.9 1337.1,363.9 C1338.5,363.0 1339.9,362.0 1341.3,361.3 C1342.8,360.6 1344.2,360.0 1345.6,359.7 C1346.6,359.5 1347.7,359.4 1348.8,359.5 C1349.8,359.6 1350.9,360.0 1351.9,360.6 C1352.6,360.9 1353.3,361.3 1354.0,361.8 C1355.5,363.0 1356.9,365.2 1358.3,367.1 C1359.7,369.1 1361.1,371.4 1362.5,373.5 C1363.9,375.6 1365.3,378.0 1366.7,379.8 C1368.9,382.5 1371.0,384.2 1373.1,385.6 C1374.5,386.5 1375.9,387.2 1377.3,387.7 C1378.7,388.1 1380.1,388.2 1381.5,388.2 C1383.0,388.2 1384.4,387.5 1385.8,387.7 C1387.2,387.9 1388.6,388.4 1390.0,389.3 C1391.4,390.2 1392.8,391.4 1394.2,393.0 C1395.7,394.6 1397.1,396.8 1398.5,398.8 C1399.9,400.8 1401.3,403.3 1402.7,405.1 C1404.1,407.0 1405.5,408.7 1406.9,409.9 C1408.0,410.8 1409.1,411.5 1410.1,412.0 C1411.0,412.5 1411.9,412.7 1412.8,413.1" stroke="#00a000"/>
<path d="M50.6,339.9 C54.1,337.6 57.6,335.0 61.2,333.0 C64.9,330.8 68.7,328.5 72.4,327.4 C75.7,326.4 79.0,326.0 82.3,326.2 C85.1,326.5 88.0,327.0 90.8,328.3 C93.6,329.7 96.4,332.1 99.2,334.3 C102.1,336.4 104.9,339.2 107.7,341.3 C110.5,343.4 113.3,345.2 116.2,346.7 C119.0,348.2 121.8,349.3 124.6,350.2 C127.5,351.1 130.3,351.7 133.1,352.0 C135.7,352.3 138.3,352.8 140.8,352.3 C143.9,351.7 147.0,349.2 150.0,347.8 C153.3,346.3 156.6,344.2 159.9,343.6 C163.2,342.9 166.5,343.5 169.8,343.9 C173.5,344.2 177.3,346.9 181.0,346.0 C183.4,345.4 185.7,343.9 188.1,342.4 C190.4,341.0 192.8,338.8 195.2,337.5 C198.0,336.0 200.8,335.1 203.6,334.7 C208.3,334.0 213.0,335.9 217.7,336.8 C224.1,338.1 230.5,340.2 236.9,342.0 C239.8,342.8 242.6,343.9 245.4,344.4 C248.2,344.9 251.0,345.4 253.8,345.1 C256.7,344.9 259.5,344.0 262.3,343.0 C265.1,342.1 268.0,340.4 270.8,339.5 C273.6,338.6 276.4,338.0 279.2,337.7 C282.1,337.3 284.9,337.3 287.7,337.4 C290.5,337.5 293.3,338.1 296.2,338.4 C299.0,338.7 301.8,339.2 304.6,339.2 C307.0,339.2 309.3,338.2 311.7,338.8 C313.6,339.3 315.4,339.2 317.3,341.6 C318.7,343.4 320.1,345.7 321.6,349.4 C323.0,353.0 324.4,358.1 325.8,363.5 C327.2,368.9 328.6,375.9 330.0,381.8 C331.5,388.2 333.0,395.6 334.5,400.3 C335.6,403.7 336.7,406.1 337.8,408.1 C338.2,408.9 338.6,409.7 339.0,410.2 C339.4,410.6 339.8,410.9 340.2,410.9 C340.6,410.9 341.0,410.8 341.4,410.2 C341.9,409.6 342.3,408.4 342.7,407.4 C343.6,405.3 344.4,403.5 345.2,400.3 C346.3,396.4 347.3,389.5 348.4,384.6 C349.8,377.9 351.2,371.5 352.6,366.3 C354.0,361.1 355.4,356.8 356.8,353.6 C358.2,350.4 359.6,348.7 361.0,347.2 C362.9,345.4 364.8,345.3 366.7,345.4 C368.6,345.5 370.4,346.8 372.3,347.9 C374.2,349.1 376.1,351.2 378.0,352.2 C379.9,353.1 381.7,353.6 383.6,353.6 C385.5,353.6 387.4,352.7 389.2,352.2 C391.1,351.7 393.0,351.0 394.9,350.8 C397.2,350.5 399.6,351.1 401.9,350.8 C405.5,350.3 409.1,348.3 412.7,347.2 C415.0,346.6 417.4,345.9 419.8,345.4 C422.1,345.0 424.4,344.7 426.8,344.4 C429.2,344.1 431.5,343.5 433.9,343.7 C436.2,344.0 438.6,344.5 440.9,345.8 C443.2,347.1 445.6,349.5 447.9,351.5 C450.3,353.5 452.7,356.0 455.0,357.8 C456.9,359.3 458.8,361.2 460.6,361.6 C462.1,362.0 463.5,361.9 464.9,361.4 C466.8,360.7 468.6,358.5 470.5,357.1 C472.4,355.7 474.3,354.1 476.2,352.9 C478.0,351.7 479.9,350.7 481.8,350.1 C483.7,349.5 485.6,349.4 487.4,349.4 C489.3,349.4 491.2,349.7 493.1,350.1 C495.0,350.4 496.9,350.9 498.7,351.5 C500.6,352.1 502.5,352.9 504.4,353.6 C506.2,354.3 508.1,355.4 510.0,355.7 C511.9,356.1 513.8,355.9 515.7,355.7 C517.5,355.5 519.4,354.0 521.3,354.3 C522.7,354.6 524.1,355.2 525.5,356.4 C526.9,357.6 528.4,359.8 529.8,361.4 C531.2,362.9 532.6,364.9 534.0,365.6 C535.4,366.3 536.8,366.6 538.2,365.6 C539.6,364.5 541.0,361.9 542.5,359.2 C543.9,356.5 545.3,352.9 546.7,349.4 C548.1,345.8 549.5,341.8 550.9,338.1 C552.3,334.3 553.7,330.0 555.1,326.8 C556.6,323.6 558.0,320.8 559.4,319.0 C560.8,317.3 562.2,316.3 563.6,316.2 C565.0,316.1 566.4,316.6 567.8,318.3 C569.2,320.1 570.7,323.7 572.1,326.8 C573.5,329.9 574.9,333.9 576.3,336.7 C577.7,339.5 579.1,342.3 580.5,343.7 C581.9,345.1 583.4,345.3 584.8,345.1 C587.4,344.9 590.1,338.9 592.7,338.1 C594.1,337.6 595.5,337.5 596.9,338.1 C598.3,338.7 599.8,340.1 601.2,341.6 C603.0,343.6 604.9,346.7 606.8,349.4 C608.7,352.1 610.6,355.2 612.4,357.8 C614.3,360.4 616.2,363.1 618.1,364.9 C619.5,366.2 620.9,367.4 622.3,368.0 C623.7,368.6 625.1,368.6 626.5,368.4 C628.4,368.2 630.3,367.6 632.2,366.3 C634.1,365.0 636.0,362.6 637.8,360.6 C639.7,358.7 641.6,356.3 643.5,354.3 C645.4,352.3 647.2,350.9 649.1,348.7 C651.0,346.4 652.9,344.1 654.8,340.9 C656.6,337.7 658.5,333.4 660.4,329.6 C661.8,326.8 663.2,323.2 664.6,321.2 C666.0,319.2 667.5,318.2 668.9,317.6 C669.8,317.2 670.7,317.1 671.7,317.2 C673.1,317.3 674.5,317.7 675.9,319.0 C677.3,320.4 678.7,322.8 680.1,325.4 C681.5,328.0 683.0,331.5 684.4,334.6 C685.8,337.6 687.2,341.0 688.6,343.7 C690.0,346.4 691.4,348.8 692.8,350.8 C694.7,353.4 696.6,354.8 698.5,356.4 C700.4,358.1 702.2,359.1 704.1,360.6 C706.0,362.2 707.9,363.9 709.8,365.6 C711.6,367.2 713.5,369.3 715.4,370.5 C716.8,371.5 718.2,372.5 719.6,372.6 C721.0,372.8 722.5,371.9 723.9,371.2 C725.7,370.4 727.6,368.9 729.5,367.7 C731.4,366.5 733.3,364.9 735.1,364.2 C737.0,363.5 738.9,363.2 740.8,363.5 C742.7,363.7 744.5,365.0 746.4,365.6 C748.3,366.2 750.2,366.9 752.1,367.0 C754.0,367.1 755.8,366.6 757.7,366.3 C759.6,365.9 761.5,365.2 763.4,364.9 C767.4,364.2 771.5,361.9 775.5,364.9 C776.9,365.9 778.3,367.7 779.8,369.1 C781.2,370.5 782.6,372.4 784.0,373.3 C785.4,374.3 786.8,374.6 788.2,374.8 C789.6,374.9 791.0,374.9 792.4,374.1 C793.9,373.2 795.3,371.1 796.7,369.8 C798.1,368.5 799.5,367.0 800.9,366.3 C802.3,365.6 803.7,365.4 805.1,365.6 C806.5,365.8 808.0,367.0 809.4,367.7 C810.8,368.4 812.2,369.5 813.6,369.8 C815.0,370.2 816.4,370.2 817.8,369.8 C819.2,369.5 820.6,368.9 822.1,367.7 C823.5,366.5 824.9,364.6 826.3,362.8 C827.7,360.9 829.1,358.4 830.5,356.4 C831.9,354.4 833.3,352.2 834.8,350.8 C836.6,348.9 838.5,348.7 840.4,347.9 C842.3,347.2 844.2,346.9 846.0,346.5 C847.9,346.2 849.8,345.4 851.7,345.8 C853.1,346.2 854.5,346.9 855.9,347.9 C857.3,349.0 858.7,350.9 860.1,352.2 C861.5,353.5 863.0,355.2 864.4,355.7 C865.8,356.2 867.2,355.4 868.6,355.0 C870.0,354.7 871.4,353.6 872.8,353.6 C874.2,353.6 875.7,354.4 877.1,355.0 C878.5,355.6 879.9,356.6 881.3,357.1 C882.7,357.6 884.1,357.7 885.5,357.8 C886.9,357.9 888.4,358.2 889.8,357.8 C891.2,357.5 892.6,356.8 894.0,355.7 C895.4,354.7 896.8,352.7 898.2,351.5 C899.6,350.3 901.0,349.2 902.5,348.7 C903.9,348.1 905.3,347.7 906.7,347.9 C908.1,348.2 909.5,349.4 910.9,350.1 C912.8,351.0 914.7,351.9 916.6,352.9 C918.4,353.8 920.3,354.9 922.2,355.7 C924.1,356.5 926.0,357.0 927.8,357.8 C929.7,358.7 931.6,359.9 933.5,360.6 C935.4,361.4 937.2,361.8 939.1,362.1 C941.0,362.3 942.9,361.9 944.8,362.1 C948.8,362.5 952.9,364.4 956.9,365.8 C958.8,366.5 960.7,367.7 962.6,367.9 C964.5,368.2 966.3,367.8 968.2,367.2 C970.1,366.7 972.0,365.0 973.9,364.4 C975.3,364.0 976.7,363.4 978.1,363.7 C979.5,364.1 980.9,364.8 982.3,366.5 C983.7,368.3 985.1,372.0 986.5,374.3 C988.0,376.7 989.4,379.1 990.8,380.6 C992.4,382.4 994.1,383.4 995.7,383.5 C997.4,383.6 999.0,382.7 1000.6,381.4 C1002.1,380.2 1003.5,377.4 1004.9,376.4 C1006.3,375.5 1007.7,375.4 1009.1,375.7 C1010.5,376.1 1011.9,377.6 1013.3,378.5 C1014.8,379.5 1016.2,380.8 1017.6,381.4 C1019.0,381.9 1020.4,382.5 1021.8,382.1 C1023.2,381.6 1024.6,380.1 1026.0,378.5 C1027.5,377.0 1028.9,374.4 1030.3,372.9 C1031.4,371.7 1032.6,370.3 1033.8,370.1 C1035.0,369.8 1036.1,370.3 1037.3,371.5 C1038.3,372.4 1039.2,374.6 1040.1,375.7 C1041.5,377.4 1043.0,378.4 1044.4,379.2 C1046.2,380.3 1048.1,380.1 1050.0,380.6 C1051.9,381.2 1053.8,381.2 1055.7,382.8 C1057.1,383.9 1058.5,385.7 1059.9,387.7 C1061.3,389.7 1062.7,392.4 1064.1,394.8 C1065.5,397.1 1066.9,399.8 1068.3,401.8 C1069.8,403.8 1071.2,405.7 1072.6,406.7 C1073.5,407.5 1074.5,408.1 1075.4,408.1 C1076.6,408.3 1077.8,407.8 1078.9,406.7 C1080.1,405.7 1081.3,403.8 1082.5,401.8 C1083.9,399.4 1085.3,396.2 1086.7,393.3 C1088.1,390.5 1089.5,387.7 1090.9,384.9 C1092.3,382.1 1093.7,378.9 1095.2,376.4 C1096.6,374.0 1098.0,371.7 1099.4,370.1 C1100.8,368.4 1102.2,367.2 1103.6,366.5 C1105.0,365.9 1106.4,365.9 1107.8,366.3 C1109.2,366.6 1110.7,367.6 1112.1,368.7 C1113.5,369.8 1114.9,371.7 1116.3,372.9 C1117.7,374.1 1119.1,375.1 1120.5,375.7 C1122.0,376.3 1123.4,376.3 1124.8,376.4 C1127.4,376.7 1130.0,377.2 1132.7,376.0 C1134.1,375.4 1135.5,373.6 1136.9,373.2 C1138.3,372.9 1139.8,373.6 1141.2,373.9 C1142.6,374.3 1144.0,375.4 1145.4,375.3 C1146.8,375.2 1148.2,374.4 1149.6,373.2 C1151.0,372.0 1152.4,369.8 1153.8,368.3 C1155.7,366.3 1157.6,365.1 1159.5,363.3 C1161.4,361.6 1163.2,359.5 1165.1,357.7 C1167.0,355.9 1168.9,354.2 1170.8,352.8 C1172.7,351.4 1174.5,350.4 1176.4,349.2 C1178.3,348.1 1180.2,347.3 1182.1,345.7 C1183.5,344.5 1184.9,342.9 1186.3,341.5 C1187.7,340.1 1189.1,338.5 1190.5,337.2 C1191.9,336.0 1193.3,334.6 1194.8,333.7 C1196.2,332.9 1197.6,332.4 1199.0,332.0 C1200.9,331.5 1202.7,331.8 1204.6,331.6 C1206.5,331.4 1208.4,331.3 1210.3,330.9 C1212.2,330.5 1214.0,329.8 1215.9,329.5 C1217.8,329.1 1219.7,328.9 1221.5,328.8 C1223.4,328.7 1225.3,328.8 1227.2,328.8 C1229.1,328.8 1231.0,328.6 1232.8,328.8 C1234.7,329.0 1236.6,329.5 1238.5,330.2 C1239.9,330.8 1241.3,331.7 1242.7,332.3 C1244.1,332.9 1245.5,333.8 1246.9,334.0 C1248.4,334.2 1249.8,334.2 1251.2,333.7 C1252.6,333.2 1254.0,332.0 1255.4,330.9 C1256.8,329.8 1258.2,328.4 1259.6,327.4 C1261.0,326.4 1262.5,325.5 1263.9,325.0 C1265.3,324.5 1266.7,324.4 1268.1,324.6 C1269.5,324.7 1270.9,325.3 1272.3,326.0 C1273.7,326.7 1275.1,327.5 1276.6,328.8 C1278.0,330.1 1279.4,332.1 1280.8,333.7 C1283.3,336.6 1285.9,338.9 1288.5,341.7 C1289.9,343.3 1291.3,345.0 1292.7,346.5 C1294.1,348.0 1295.5,349.3 1296.9,350.7 C1298.3,352.1 1299.8,353.6 1301.2,355.0 C1302.6,356.3 1304.0,357.6 1305.4,358.7 C1306.8,359.7 1308.2,360.5 1309.6,361.3 C1311.0,362.1 1312.4,362.7 1313.8,363.2 C1315.3,363.7 1316.7,364.2 1318.1,364.5 C1319.5,364.7 1320.9,365.0 1322.3,364.8 C1323.7,364.6 1325.1,364.2 1326.5,363.4 C1328.0,362.7 1329.4,361.6 1330.8,360.2 C1332.2,358.9 1333.6,357.0 1335.0,355.5 C1336.4,354.0 1337.8,352.3 1339.2,351.3 C1340.7,350.2 1342.1,349.5 1343.5,349.1 C1344.9,348.8 1346.3,348.8 1347.7,349.4 C1349.1,349.9 1350.5,350.8 1351.9,352.3 C1353.3,353.8 1354.8,355.7 1356.2,358.1 C1357.6,360.6 1359.0,363.9 1360.4,367.1 C1361.8,370.4 1363.2,374.6 1364.6,377.7 C1366.4,381.6 1368.2,385.2 1369.9,387.7 C1371.0,389.2 1372.0,390.7 1373.1,391.4 C1374.1,392.1 1375.2,392.1 1376.3,391.9 C1377.3,391.8 1378.4,390.9 1379.4,390.3 C1380.5,389.8 1381.6,389.0 1382.6,388.8 C1383.7,388.5 1384.7,388.4 1385.8,388.8 C1387.2,389.2 1388.6,390.3 1390.0,391.9 C1391.4,393.5 1392.8,395.2 1394.2,398.3 C1395.3,400.6 1396.4,403.6 1397.4,406.7 C1398.5,409.9 1399.5,414.0 1400.6,417.3 C1401.6,420.7 1402.7,423.8 1403.8,426.8 C1404.8,429.8 1405.9,432.9 1406.9,435.3 C1408.0,437.7 1409.1,439.7 1410.1,441.1 C1411.0,442.3 1411.9,442.9 1412.8,443.8" stroke="#0064cc"/>
<path d="M50.6,338.9 C54.1,336.7 57.6,334.2 61.2,332.1 C64.9,330.0 68.7,327.7 72.4,326.5 C76.0,325.4 79.5,324.7 83.0,324.9 C85.8,325.2 88.7,325.9 91.5,327.2 C94.3,328.5 97.1,330.9 99.9,333.0 C102.8,335.1 105.6,337.8 108.4,339.9 C111.2,342.0 114.0,344.0 116.9,345.7 C119.7,347.4 122.5,349.0 125.3,350.1 C128.2,351.2 131.0,351.9 133.8,352.3 C136.1,352.6 138.5,353.3 140.8,352.6 C143.9,351.7 147.0,347.9 150.0,346.0 C153.3,343.9 156.6,341.4 159.9,341.0 C163.2,340.7 166.5,342.8 169.8,343.9 C173.5,345.0 177.3,348.6 181.0,347.8 C183.4,347.3 185.7,345.8 188.1,343.9 C190.4,341.9 192.8,338.1 195.2,336.1 C198.0,333.6 200.8,332.0 203.6,331.2 C208.3,329.7 213.0,332.4 217.7,333.3 C224.1,334.4 230.5,335.5 236.9,337.4 C239.8,338.2 242.6,339.1 245.4,340.2 C248.2,341.3 251.0,342.8 253.8,343.7 C256.7,344.7 259.5,345.6 262.3,345.8 C265.1,346.1 268.0,345.6 270.8,345.4 C273.6,345.3 276.4,344.4 279.2,344.9 C281.6,345.2 283.9,345.9 286.3,347.2 C288.6,348.6 291.0,351.0 293.3,352.9 C295.7,354.8 298.0,357.0 300.4,358.5 C302.7,360.1 305.1,361.2 307.4,362.1 C309.3,362.7 311.2,362.5 313.1,363.5 C315.0,364.4 316.9,364.9 318.7,367.7 C320.1,369.8 321.6,373.1 323.0,376.2 C324.4,379.2 325.8,383.3 327.2,386.0 C328.6,388.7 330.0,391.3 331.4,392.4 C332.4,393.1 333.3,393.2 334.2,393.1 C335.7,392.9 337.1,391.9 338.5,390.3 C339.9,388.6 341.3,385.9 342.7,383.2 C344.6,379.6 346.5,374.8 348.4,370.5 C350.2,366.3 352.1,361.4 354.0,357.8 C355.9,354.3 357.8,351.1 359.6,349.4 C361.5,347.6 363.4,347.0 365.3,347.2 C366.7,347.4 368.1,348.2 369.5,349.4 C371.4,350.9 373.3,354.1 375.1,356.4 C377.0,358.8 378.9,362.1 380.8,363.5 C382.2,364.5 383.6,365.2 385.0,364.9 C386.9,364.4 388.8,362.1 390.7,359.2 C392.5,356.4 394.4,351.1 396.3,347.9 C398.2,344.8 400.1,342.0 401.9,340.2 C404.6,337.6 407.2,337.2 409.9,336.9 C411.8,336.8 413.6,337.4 415.5,337.8 C417.9,338.4 420.2,339.6 422.6,340.2 C424.9,340.8 427.3,341.1 429.6,341.6 C432.0,342.1 434.3,342.4 436.7,343.0 C439.0,343.6 441.4,344.4 443.7,345.1 C446.1,345.8 448.4,346.7 450.8,347.2 C453.1,347.8 455.5,348.1 457.8,348.7 C460.2,349.2 462.5,349.7 464.9,350.8 C466.8,351.7 468.6,353.1 470.5,354.3 C472.4,355.5 474.3,356.8 476.2,357.8 C478.0,358.8 479.9,360.1 481.8,360.4 C483.7,360.6 485.6,359.3 487.4,359.2 C489.3,359.2 491.2,359.5 493.1,359.9 C495.0,360.4 496.9,361.9 498.7,362.1 C500.1,362.2 501.6,362.1 503.0,361.4 C504.4,360.6 505.8,359.0 507.2,357.8 C508.6,356.7 510.0,354.5 511.4,354.3 C512.8,354.1 514.2,355.1 515.7,356.4 C517.1,357.7 518.5,360.1 519.9,362.1 C521.8,364.7 523.6,368.1 525.5,370.5 C527.4,373.0 529.3,376.1 531.2,376.9 C532.6,377.4 534.0,377.5 535.4,376.2 C536.8,374.9 538.2,372.4 539.6,369.1 C541.0,365.8 542.5,360.9 543.9,356.4 C545.3,351.9 546.7,347.0 548.1,342.3 C549.5,337.6 550.9,332.2 552.3,328.2 C553.7,324.2 555.1,320.6 556.6,318.3 C558.0,316.1 559.4,314.9 560.8,314.8 C562.0,314.7 563.1,314.9 564.3,316.9 C565.5,318.9 566.7,323.1 567.8,326.8 C569.2,331.3 570.7,337.6 572.1,342.3 C573.5,347.0 574.9,352.0 576.3,355.0 C577.7,358.1 579.1,359.4 580.5,360.6 C582.2,362.1 583.8,362.3 585.5,362.3 C588.3,362.4 591.2,359.5 594.1,357.8 C596.0,356.7 597.9,355.0 599.8,354.3 C601.2,353.8 602.6,353.4 604.0,353.6 C605.4,353.8 606.8,354.8 608.2,355.7 C610.1,357.0 612.0,359.6 613.9,360.6 C615.3,361.4 616.7,361.8 618.1,362.1 C620.0,362.4 621.8,362.3 623.7,362.1 C625.6,361.8 627.5,361.9 629.4,360.6 C630.8,359.7 632.2,357.9 633.6,356.4 C635.0,354.9 636.4,352.5 637.8,351.5 C639.2,350.4 640.6,349.8 642.1,350.1 C643.5,350.3 644.9,351.4 646.3,352.9 C647.7,354.4 649.1,357.4 650.5,359.2 C651.9,361.1 653.3,363.4 654.8,364.2 C655.9,364.8 657.1,364.8 658.3,364.2 C659.5,363.6 660.6,361.8 661.8,360.6 C663.2,359.2 664.6,357.2 666.0,356.4 C667.4,355.6 668.9,355.6 670.3,355.7 C672.1,355.8 674.0,357.7 675.9,357.8 C677.8,357.9 679.7,357.1 681.5,356.4 C683.4,355.7 685.3,353.8 687.2,353.6 C688.6,353.4 690.0,353.1 691.4,354.3 C692.8,355.5 694.2,358.4 695.7,360.6 C697.1,362.9 698.5,366.1 699.9,367.7 C701.3,369.3 702.7,369.9 704.1,370.2 C706.0,370.7 707.9,369.3 709.8,369.1 C711.6,368.9 713.5,369.6 715.4,369.1 C717.3,368.6 719.2,367.5 721.0,366.3 C722.9,365.1 724.8,363.0 726.7,362.1 C728.6,361.1 730.5,361.0 732.3,360.6 C734.2,360.3 736.1,360.8 738.0,359.9 C739.9,359.1 741.7,357.4 743.6,355.7 C745.0,354.5 746.4,352.4 747.8,351.5 C749.2,350.5 750.7,349.8 752.1,350.1 C753.5,350.3 754.9,351.1 756.3,352.9 C757.7,354.7 759.1,357.9 760.5,360.6 C761.9,363.4 763.4,367.0 764.8,369.1 C767.4,373.1 770.1,374.7 772.7,374.1 C774.6,373.6 776.5,370.5 778.3,369.1 C780.2,367.7 782.1,366.2 784.0,365.6 C785.9,364.9 787.7,365.5 789.6,365.2 C791.5,364.8 793.4,364.7 795.3,363.5 C797.1,362.2 799.0,360.2 800.9,357.8 C802.8,355.5 804.7,352.0 806.5,349.4 C808.4,346.8 810.3,344.2 812.2,342.3 C814.1,340.4 816.0,338.7 817.8,337.8 C819.2,337.2 820.6,336.8 822.1,336.9 C823.5,337.1 824.9,337.7 826.3,338.8 C827.7,339.9 829.1,342.1 830.5,343.7 C832.4,345.9 834.3,348.1 836.2,350.1 C838.0,352.1 839.9,353.8 841.8,355.7 C843.7,357.6 845.6,359.5 847.5,361.4 C849.3,363.2 851.2,365.5 853.1,367.0 C855.0,368.5 856.9,369.7 858.7,370.1 C860.1,370.4 861.6,370.7 863.0,370.1 C864.4,369.5 865.8,368.1 867.2,366.3 C868.6,364.5 870.0,361.7 871.4,359.2 C872.8,356.8 874.2,353.6 875.7,351.5 C877.1,349.4 878.5,347.6 879.9,346.5 C881.3,345.5 882.7,345.2 884.1,345.1 C885.5,345.0 886.9,345.5 888.4,345.8 C890.2,346.3 892.1,347.1 894.0,347.9 C895.9,348.8 897.8,349.9 899.6,350.8 C901.5,351.7 903.4,352.7 905.3,353.3 C907.2,353.9 909.0,354.1 910.9,354.3 C912.8,354.5 914.7,354.3 916.6,354.3 C918.4,354.3 920.3,354.4 922.2,354.3 C924.1,354.2 926.0,353.9 927.8,353.6 C929.7,353.3 931.6,352.8 933.5,352.5 C935.4,352.1 937.2,351.5 939.1,351.5 C940.5,351.5 942.0,351.3 943.4,351.9 C944.8,352.5 946.2,353.5 947.6,355.0 C949.3,356.8 951.0,359.8 952.7,362.3 C954.1,364.4 955.5,366.9 956.9,368.7 C958.3,370.4 959.8,371.8 961.2,372.9 C963.0,374.4 964.9,375.0 966.8,375.7 C968.7,376.4 970.6,376.8 972.4,377.1 C974.3,377.5 976.2,377.7 978.1,377.8 C980.0,378.0 981.8,378.5 983.7,378.1 C985.6,377.8 987.5,376.8 989.4,375.7 C991.2,374.6 993.1,372.7 995.0,371.5 C996.9,370.3 998.8,369.0 1000.6,368.7 C1002.5,368.3 1004.4,369.1 1006.3,369.4 C1008.2,369.7 1010.0,370.4 1011.9,370.5 C1013.8,370.6 1015.7,370.3 1017.6,370.1 C1019.5,369.9 1021.3,368.9 1023.2,369.4 C1024.6,369.7 1026.0,370.3 1027.5,371.5 C1028.9,372.7 1030.3,375.0 1031.7,376.4 C1033.1,377.8 1034.5,379.1 1035.9,379.9 C1037.3,380.8 1038.7,381.3 1040.1,381.6 C1042.0,382.0 1043.9,381.3 1045.8,381.4 C1047.7,381.4 1049.5,381.4 1051.4,382.1 C1053.3,382.8 1055.2,384.2 1057.1,385.6 C1059.0,387.0 1060.8,389.1 1062.7,390.5 C1064.1,391.6 1065.5,392.6 1066.9,393.3 C1068.4,394.0 1069.8,394.6 1071.2,394.8 C1072.6,394.9 1074.0,394.3 1075.4,394.1 C1077.3,393.7 1079.2,393.5 1081.0,392.6 C1082.9,391.8 1084.8,390.4 1086.7,389.1 C1088.6,387.8 1090.5,386.2 1092.3,384.9 C1094.2,383.6 1096.1,382.3 1098.0,381.4 C1099.8,380.4 1101.7,379.6 1103.6,379.2 C1105.5,378.9 1107.4,379.2 1109.2,379.2 C1111.6,379.2 1114.0,379.5 1116.3,379.2 C1118.7,379.0 1121.0,378.4 1123.4,377.8 C1127.9,376.8 1132.4,375.1 1136.9,373.9 C1138.8,373.4 1140.7,372.9 1142.6,372.5 C1144.5,372.2 1146.3,372.4 1148.2,371.8 C1150.1,371.2 1152.0,369.9 1153.8,369.0 C1155.7,368.0 1157.6,367.3 1159.5,366.2 C1161.4,365.0 1163.2,363.7 1165.1,361.9 C1167.0,360.2 1168.9,357.6 1170.8,355.6 C1172.7,353.6 1174.5,351.7 1176.4,349.9 C1178.3,348.2 1180.2,346.8 1182.1,345.0 C1183.9,343.2 1185.8,341.0 1187.7,339.4 C1189.1,338.2 1190.5,336.8 1191.9,336.3 C1193.3,335.7 1194.8,335.8 1196.2,335.8 C1198.0,335.8 1199.9,336.5 1201.8,336.5 C1203.7,336.5 1205.6,336.3 1207.5,335.8 C1209.3,335.4 1211.2,334.4 1213.1,333.7 C1215.0,333.0 1216.8,332.4 1218.7,331.6 C1220.6,330.8 1222.5,329.7 1224.4,328.8 C1226.2,327.9 1228.1,326.7 1230.0,326.0 C1231.9,325.2 1233.8,324.5 1235.7,324.1 C1237.5,323.7 1239.4,323.5 1241.3,323.6 C1243.2,323.6 1245.1,324.1 1246.9,324.6 C1248.8,325.0 1250.7,325.9 1252.6,326.4 C1254.5,326.9 1256.3,327.2 1258.2,327.4 C1260.1,327.5 1262.0,327.5 1263.9,327.4 C1265.7,327.2 1267.6,326.5 1269.5,326.4 C1271.4,326.3 1273.3,326.2 1275.2,326.7 C1277.0,327.2 1278.9,328.1 1280.8,329.5 C1283.3,331.4 1285.9,334.5 1288.5,337.5 C1289.9,339.2 1291.3,341.2 1292.7,342.8 C1294.1,344.4 1295.5,345.7 1296.9,347.0 C1298.3,348.3 1299.8,349.6 1301.2,350.7 C1302.6,351.9 1304.0,353.0 1305.4,353.9 C1306.8,354.8 1308.2,355.4 1309.6,356.0 C1311.0,356.6 1312.4,357.2 1313.8,357.6 C1315.3,358.0 1316.7,358.4 1318.1,358.7 C1319.5,358.9 1320.9,359.0 1322.3,359.2 C1323.7,359.3 1325.1,359.4 1326.5,359.5 C1328.0,359.6 1329.4,359.6 1330.8,359.7 C1332.2,359.8 1333.6,360.0 1335.0,360.2 C1336.4,360.5 1337.8,360.7 1339.2,361.0 C1340.7,361.3 1342.1,361.5 1343.5,361.8 C1344.9,362.1 1346.3,362.4 1347.7,362.7 C1349.1,362.9 1350.5,363.0 1351.9,363.4 C1353.3,363.8 1354.8,364.3 1356.2,365.0 C1357.6,365.7 1359.0,366.6 1360.4,367.6 C1361.8,368.7 1363.2,370.0 1364.6,371.4 C1366.0,372.7 1367.5,374.2 1368.9,375.6 C1370.3,377.0 1371.7,378.5 1373.1,379.8 C1374.5,381.1 1375.9,381.5 1377.3,383.5 C1378.7,385.5 1380.1,389.6 1381.5,391.9 C1383.0,394.2 1384.4,395.6 1385.8,397.2 C1387.2,398.8 1388.6,400.0 1390.0,401.4 C1391.4,402.9 1392.8,404.3 1394.2,405.7 C1395.7,407.1 1397.1,408.4 1398.5,409.9 C1399.9,411.4 1401.3,413.2 1402.7,414.7 C1404.1,416.2 1405.5,417.9 1406.9,418.9 C1408.0,419.7 1409.1,420.1 1410.1,420.5 C1411.0,420.8 1411.9,420.8 1412.8,421.0" stroke="#8c4600"/>
<path d="M50.6,339.6 C54.1,337.4 57.6,334.9 61.2,332.9 C64.9,330.7 68.7,328.3 72.4,327.2 C75.7,326.2 79.0,325.7 82.3,325.9 C85.1,326.2 88.0,326.7 90.8,328.1 C93.6,329.4 96.4,331.8 99.2,334.0 C102.1,336.1 104.9,338.9 107.7,341.0 C110.5,343.1 113.3,345.0 116.2,346.7 C119.0,348.4 121.8,349.6 124.6,351.3 C127.5,353.0 130.3,355.6 133.1,357.0 C135.7,358.2 138.3,359.6 140.8,359.4 C143.4,359.2 146.0,357.0 148.6,355.8 C151.9,354.3 155.2,351.2 158.5,351.2 C161.3,351.2 164.1,352.7 166.9,354.4 C169.3,355.9 171.6,358.9 174.0,360.1 C175.9,361.0 177.8,362.0 179.6,361.6 C181.5,361.3 183.4,360.3 185.3,357.9 C187.6,355.0 190.0,347.8 192.3,343.9 C194.7,339.9 197.0,335.9 199.4,334.0 C200.8,332.8 202.2,332.3 203.6,331.9 C208.3,330.4 213.0,334.4 217.7,336.1 C224.1,338.4 230.5,341.0 236.9,344.4 C239.8,345.9 242.6,347.6 245.4,349.4 C248.2,351.1 251.0,353.5 253.8,355.0 C256.2,356.2 258.5,357.4 260.9,357.8 C262.8,358.2 264.7,358.3 266.5,357.8 C268.4,357.4 270.3,355.6 272.2,355.0 C274.1,354.4 275.9,353.6 277.8,354.0 C279.2,354.4 280.6,354.8 282.1,356.4 C283.5,358.0 284.9,360.4 286.3,363.5 C287.7,366.5 289.1,370.8 290.5,374.8 C291.9,378.7 293.3,383.1 294.8,387.4 C297.6,396.2 300.4,406.0 303.2,415.1 C304.4,418.9 305.6,423.5 306.7,426.4 C307.4,428.0 308.0,429.5 308.6,430.4 C309.1,431.2 309.7,431.6 310.3,431.6 C310.8,431.6 311.4,431.2 312.0,430.4 C312.6,429.5 313.2,428.0 313.8,426.4 C315.0,423.3 316.1,418.4 317.3,413.7 C319.2,406.2 321.1,394.8 323.0,387.4 C324.4,381.9 325.8,376.7 327.2,373.3 C328.6,369.9 330.0,368.3 331.4,367.0 C332.8,365.7 334.2,365.5 335.7,365.6 C337.1,365.7 338.5,366.7 339.9,367.7 C341.8,369.0 343.6,371.3 345.5,373.3 C347.9,375.9 350.2,379.2 352.6,381.8 C354.9,384.4 357.3,387.2 359.6,388.9 C361.5,390.2 363.4,391.5 365.3,391.4 C366.7,391.3 368.1,390.7 369.5,389.6 C371.4,388.0 373.3,384.6 375.1,381.8 C377.5,378.3 379.8,373.2 382.2,370.5 C384.1,368.3 386.0,366.3 387.8,366.0 C389.2,365.8 390.7,366.6 392.1,367.4 C394.0,368.5 395.8,371.2 397.7,372.6 C399.1,373.7 400.5,375.4 401.9,375.5 C404.1,375.5 406.3,372.1 408.5,369.1 C410.3,366.5 412.2,362.5 414.1,359.2 C416.0,355.9 417.9,352.2 419.8,349.4 C421.6,346.6 423.5,344.2 425.4,342.3 C427.3,340.4 429.1,338.9 431.0,338.1 C432.9,337.3 434.8,336.9 436.7,337.4 C438.6,337.9 440.4,339.4 442.3,340.9 C444.2,342.4 446.1,344.7 447.9,346.5 C449.8,348.4 451.7,350.7 453.6,352.2 C455.5,353.7 457.4,355.0 459.2,355.7 C461.1,356.4 463.0,356.4 464.9,356.4 C466.8,356.4 468.6,356.1 470.5,355.7 C472.4,355.4 474.3,354.5 476.2,354.3 C478.0,354.1 479.9,354.1 481.8,354.3 C483.7,354.5 485.6,355.4 487.4,355.7 C489.3,356.1 491.2,356.7 493.1,356.4 C495.0,356.2 496.9,355.0 498.7,354.3 C500.6,353.6 502.5,352.3 504.4,352.2 C506.2,352.1 508.1,351.6 510.0,353.6 C511.4,355.1 512.8,357.4 514.2,360.6 C515.7,363.9 517.1,369.3 518.5,373.3 C519.9,377.3 521.3,381.9 522.7,384.6 C524.1,387.3 525.5,388.7 526.9,389.6 C528.1,390.3 529.3,390.5 530.5,390.0 C531.6,389.5 532.8,387.8 534.0,386.7 C535.4,385.5 536.8,384.0 538.2,383.2 C539.6,382.4 541.0,382.3 542.5,381.8 C543.9,381.3 545.3,381.1 546.7,380.4 C548.1,379.7 549.5,378.5 550.9,377.6 C552.3,376.6 553.7,375.6 555.1,374.8 C557.0,373.6 558.9,373.4 560.8,371.9 C562.2,370.8 563.6,369.8 565.0,367.7 C566.4,365.6 567.8,363.0 569.2,359.2 C570.7,355.5 572.1,348.9 573.5,345.1 C574.9,341.4 576.3,338.7 577.7,336.7 C579.1,334.7 580.5,333.9 582.0,333.1 C583.4,332.4 584.8,331.9 586.2,332.4 C588.4,333.3 590.5,336.3 592.7,340.9 C594.1,343.9 595.5,349.0 596.9,352.2 C598.8,356.5 600.7,359.5 602.6,362.1 C604.5,364.6 606.3,366.4 608.2,367.7 C609.6,368.7 611.0,369.8 612.4,369.8 C613.9,369.8 615.3,368.4 616.7,367.7 C618.5,366.8 620.4,365.4 622.3,364.9 C624.2,364.4 626.1,364.6 628.0,364.9 C629.8,365.1 631.7,365.9 633.6,366.3 C635.5,366.6 637.4,367.0 639.2,367.0 C641.1,367.0 643.0,366.9 644.9,366.3 C646.8,365.7 648.6,364.9 650.5,363.5 C652.4,362.1 654.3,359.8 656.2,357.8 C658.0,355.8 659.9,353.3 661.8,351.5 C663.2,350.1 664.6,348.3 666.0,347.9 C667.4,347.6 668.9,348.4 670.3,349.4 C671.7,350.3 673.1,352.7 674.5,353.6 C675.9,354.5 677.3,355.4 678.7,355.0 C680.1,354.7 681.6,353.6 683.0,351.5 C684.4,349.4 685.8,344.8 687.2,342.3 C688.6,339.8 690.0,337.7 691.4,336.7 C692.8,335.6 694.2,335.7 695.7,336.0 C697.1,336.2 698.5,336.6 699.9,338.1 C701.3,339.6 702.7,342.3 704.1,345.1 C705.5,348.0 706.9,352.2 708.4,355.0 C709.8,357.8 711.2,360.1 712.6,362.1 C714.5,364.7 716.3,366.1 718.2,367.7 C720.1,369.3 722.0,370.6 723.9,371.9 C725.3,372.9 726.7,374.3 728.1,374.8 C729.5,375.2 730.9,375.5 732.3,374.8 C733.7,374.0 735.1,372.4 736.6,370.5 C738.4,368.0 740.3,363.9 742.2,360.6 C743.6,358.2 745.0,355.0 746.4,353.6 C747.8,352.2 749.2,351.7 750.7,352.2 C752.1,352.7 753.5,354.7 754.9,356.4 C756.3,358.2 757.7,361.5 759.1,362.8 C760.5,364.0 762.0,364.3 763.4,364.2 C764.8,364.1 766.2,363.1 767.6,362.1 C769.8,360.5 771.9,357.6 774.1,355.0 C776.0,352.8 777.9,350.1 779.8,347.9 C781.6,345.8 783.5,343.5 785.4,342.3 C786.8,341.4 788.2,340.6 789.6,340.6 C791.0,340.6 792.4,340.9 793.9,342.3 C795.3,343.8 796.7,346.8 798.1,349.4 C799.5,352.0 800.9,355.9 802.3,357.8 C803.7,359.8 805.1,360.7 806.5,361.1 C808.0,361.4 809.4,360.5 810.8,359.9 C812.7,359.2 814.5,357.4 816.4,356.4 C818.3,355.5 820.2,355.2 822.1,354.3 C823.9,353.4 825.8,352.1 827.7,350.8 C829.6,349.5 831.5,348.0 833.3,346.5 C835.2,345.1 837.1,343.5 839.0,342.3 C840.9,341.1 842.7,340.4 844.6,339.5 C846.5,338.6 848.4,337.7 850.3,336.7 C851.7,335.9 853.1,334.7 854.5,334.1 C855.9,333.6 857.3,333.5 858.7,333.4 C860.1,333.4 861.6,333.5 863.0,333.9 C864.8,334.3 866.7,335.4 868.6,336.0 C870.5,336.6 872.4,337.5 874.2,337.4 C876.1,337.3 878.0,335.9 879.9,335.3 C881.3,334.8 882.7,334.0 884.1,333.9 C885.5,333.7 886.9,333.9 888.4,334.6 C889.8,335.3 891.2,336.8 892.6,338.1 C894.5,339.8 896.3,341.8 898.2,343.7 C900.1,345.6 902.0,347.8 903.9,349.4 C905.7,350.9 907.6,352.1 909.5,352.9 C911.4,353.7 913.3,354.2 915.1,354.3 C917.0,354.4 918.9,354.3 920.8,353.6 C922.7,352.9 924.5,351.5 926.4,350.1 C928.3,348.7 930.2,346.4 932.1,345.1 C933.5,344.2 934.9,343.1 936.3,343.0 C937.7,342.9 939.1,343.4 940.5,344.4 C941.9,345.5 943.4,347.5 944.8,349.4 C947.4,352.8 950.1,360.2 952.7,361.6 C954.1,362.4 955.5,362.0 956.9,361.6 C958.3,361.3 959.8,360.1 961.2,359.5 C962.6,358.9 964.0,358.2 965.4,358.1 C966.8,358.0 968.2,358.4 969.6,358.8 C971.5,359.4 973.4,361.0 975.3,361.6 C977.1,362.2 979.0,362.1 980.9,362.3 C982.8,362.5 984.7,362.7 986.5,363.0 C988.4,363.4 990.3,363.3 992.2,364.4 C993.6,365.3 995.0,366.3 996.4,367.9 C997.8,369.6 999.2,372.4 1000.6,374.3 C1002.1,376.2 1003.5,378.1 1004.9,379.2 C1006.3,380.4 1007.7,381.4 1009.1,381.4 C1010.5,381.4 1011.9,380.1 1013.3,379.2 C1014.8,378.4 1016.2,376.8 1017.6,376.4 C1019.0,376.1 1020.4,376.6 1021.8,377.1 C1023.2,377.6 1024.6,378.8 1026.0,379.2 C1027.5,379.7 1028.9,380.3 1030.3,379.9 C1031.7,379.6 1033.1,378.6 1034.5,377.1 C1035.9,375.6 1037.3,372.4 1038.7,370.8 C1040.1,369.1 1041.5,367.8 1043.0,367.2 C1044.4,366.7 1045.8,366.4 1047.2,367.2 C1048.6,368.1 1050.0,370.4 1051.4,372.2 C1052.8,374.0 1054.2,376.2 1055.7,377.8 C1057.1,379.5 1058.5,380.6 1059.9,382.1 C1061.3,383.5 1062.7,385.1 1064.1,386.3 C1065.5,387.5 1066.9,388.1 1068.3,389.1 C1070.2,390.4 1072.1,392.4 1074.0,393.3 C1075.9,394.3 1077.8,394.9 1079.6,394.8 C1081.0,394.6 1082.5,394.3 1083.9,393.3 C1085.3,392.4 1086.7,390.5 1088.1,389.1 C1090.0,387.2 1091.9,385.2 1093.7,383.5 C1095.6,381.7 1097.5,379.9 1099.4,378.5 C1101.3,377.1 1103.1,375.7 1105.0,375.0 C1106.9,374.3 1108.8,374.3 1110.7,374.3 C1112.5,374.3 1114.4,375.1 1116.3,375.0 C1117.7,375.0 1119.1,375.0 1120.5,374.3 C1122.0,373.6 1123.4,371.8 1124.8,370.8 C1127.9,368.6 1131.0,367.9 1134.1,367.3 C1136.0,366.9 1137.9,366.9 1139.8,366.9 C1141.6,366.9 1143.5,367.2 1145.4,367.3 C1147.3,367.4 1149.2,367.7 1151.0,367.3 C1152.9,366.9 1154.8,366.3 1156.7,364.8 C1158.5,363.2 1160.4,360.8 1162.3,357.7 C1164.2,354.6 1166.1,350.9 1168.0,346.4 C1169.4,343.1 1170.8,338.1 1172.2,335.1 C1173.6,332.2 1175.0,330.2 1176.4,328.8 C1177.8,327.4 1179.2,327.0 1180.7,326.7 C1182.1,326.3 1183.5,326.3 1184.9,326.7 C1186.3,327.0 1187.7,328.0 1189.1,328.8 C1190.5,329.6 1191.9,330.9 1193.3,331.6 C1195.2,332.5 1197.1,333.0 1199.0,333.0 C1200.9,333.0 1202.7,332.0 1204.6,331.6 C1206.5,331.3 1208.4,330.9 1210.3,330.9 C1212.2,330.9 1214.0,331.0 1215.9,331.6 C1217.3,332.1 1218.7,333.0 1220.1,333.7 C1221.5,334.4 1223.0,335.6 1224.4,335.8 C1225.8,336.1 1227.2,335.9 1228.6,335.4 C1230.0,335.0 1231.4,334.2 1232.8,333.0 C1234.2,331.8 1235.7,329.7 1237.1,328.1 C1238.5,326.4 1239.9,324.6 1241.3,323.1 C1242.7,321.7 1244.1,320.6 1245.5,319.6 C1246.9,318.7 1248.3,318.0 1249.8,317.5 C1251.2,317.0 1252.6,316.7 1254.0,316.5 C1255.4,316.4 1256.8,316.4 1258.2,316.5 C1259.6,316.7 1261.0,316.9 1262.5,317.5 C1263.9,318.1 1265.3,319.0 1266.7,320.3 C1268.1,321.6 1269.5,323.5 1270.9,325.3 C1272.3,327.0 1273.7,328.8 1275.2,330.9 C1276.6,333.0 1278.0,335.7 1279.4,337.9 C1283.1,344.0 1286.8,349.9 1290.6,354.4 C1292.0,356.2 1293.4,358.0 1294.8,359.2 C1296.2,360.4 1297.6,361.0 1299.0,361.8 C1300.5,362.6 1301.9,363.2 1303.3,363.9 C1304.7,364.7 1306.1,365.4 1307.5,366.1 C1308.9,366.8 1310.3,367.5 1311.7,368.2 C1313.1,368.9 1314.6,369.6 1316.0,370.1 C1317.4,370.6 1318.8,371.1 1320.2,371.4 C1321.6,371.7 1323.0,371.9 1324.4,371.9 C1325.8,371.8 1327.2,371.7 1328.7,371.1 C1330.1,370.6 1331.5,369.7 1332.9,368.7 C1334.3,367.7 1335.7,366.2 1337.1,365.0 C1338.5,363.8 1339.9,362.4 1341.3,361.3 C1342.8,360.2 1344.2,359.4 1345.6,358.7 C1347.0,358.0 1348.4,357.5 1349.8,357.1 C1351.2,356.6 1352.6,356.1 1354.0,356.0 C1355.5,355.9 1356.9,355.8 1358.3,356.5 C1359.7,357.2 1361.1,358.7 1362.5,360.2 C1363.9,361.8 1365.3,364.2 1366.7,366.1 C1368.2,367.9 1369.6,369.9 1371.0,371.4 C1372.4,372.9 1373.8,373.8 1375.2,375.1 C1376.6,376.3 1378.0,377.4 1379.4,378.8 C1380.9,380.1 1382.3,381.6 1383.7,383.0 C1385.1,384.4 1386.5,386.0 1387.9,387.2 C1389.3,388.3 1390.7,388.4 1392.1,389.8 C1393.2,390.9 1394.2,392.1 1395.3,394.0 C1396.4,396.0 1397.4,398.8 1398.5,401.4 C1399.5,404.1 1400.6,407.1 1401.7,409.9 C1402.7,412.7 1403.8,415.7 1404.8,418.4 C1405.9,421.0 1406.9,423.7 1408.0,425.8 C1409.1,427.8 1410.1,429.5 1411.2,430.5 C1411.7,431.0 1412.2,431.2 1412.8,431.6" stroke="#008080"/>
<path d="M50.6,341.3 C54.1,338.9 57.6,336.1 61.2,334.0 C64.9,331.7 68.7,329.5 72.4,328.3 C75.7,327.3 79.0,326.6 82.3,326.9 C85.1,327.2 88.0,327.9 90.8,329.3 C93.6,330.7 96.4,333.2 99.2,335.4 C102.1,337.6 104.9,340.4 107.7,342.4 C110.5,344.5 113.3,346.4 116.2,347.8 C119.0,349.2 121.8,350.0 124.6,350.6 C127.5,351.3 130.3,351.6 133.1,351.8 C135.7,351.9 138.3,352.3 140.8,351.8 C144.8,350.9 148.8,347.0 152.8,345.3 C156.1,343.8 159.4,342.3 162.7,341.7 C166.0,341.1 169.3,341.6 172.6,341.7 C175.4,341.8 178.2,342.5 181.0,342.2 C183.9,341.8 186.7,340.4 189.5,339.6 C192.3,338.8 195.2,337.4 198.0,337.5 C199.8,337.6 201.7,338.2 203.6,338.9 C206.4,340.0 209.2,342.4 212.1,343.9 C215.8,345.8 219.6,346.5 223.4,348.8 C227.9,351.6 232.4,356.0 236.9,359.9 C239.8,362.4 242.6,365.2 245.4,367.7 C248.2,370.2 251.0,372.5 253.8,374.8 C256.2,376.7 258.5,379.1 260.9,380.4 C263.2,381.7 265.6,382.0 267.9,382.5 C270.8,383.1 273.6,382.9 276.4,383.2 C279.2,383.6 282.1,384.2 284.9,384.6 C287.7,385.1 290.5,385.6 293.3,386.0 C296.2,386.5 299.0,386.7 301.8,387.2 C304.2,387.6 306.5,388.0 308.9,388.6 C309.9,388.8 310.9,389.3 312.0,389.4 C312.7,389.5 313.5,389.7 314.2,389.4 C315.0,389.1 315.8,388.6 316.6,387.7 C317.3,386.9 318.0,385.9 318.7,384.6 C320.1,382.0 321.6,377.1 323.0,373.3 C324.4,369.6 325.8,365.1 327.2,362.1 C328.6,359.0 330.0,356.4 331.4,355.0 C332.8,353.6 334.2,353.4 335.7,353.6 C337.1,353.8 338.5,355.3 339.9,356.4 C341.8,357.9 343.6,360.4 345.5,362.1 C347.9,364.1 350.2,364.8 352.6,367.0 C354.5,368.8 356.3,371.0 358.2,373.3 C360.1,375.7 362.0,379.1 363.9,381.1 C365.7,383.1 367.6,384.9 369.5,385.3 C370.9,385.6 372.3,385.5 373.7,384.6 C375.6,383.4 377.5,380.6 379.4,377.6 C381.3,374.5 383.1,370.5 385.0,366.3 C386.9,362.1 388.8,356.7 390.7,352.2 C392.5,347.7 394.4,342.8 396.3,339.5 C398.2,336.2 400.1,334.3 401.9,332.4 C405.5,328.9 409.1,328.2 412.7,327.5 C415.0,327.1 417.4,326.8 419.8,327.5 C421.6,328.0 423.5,329.3 425.4,330.3 C427.7,331.6 430.1,333.9 432.4,334.6 C434.8,335.3 437.1,334.9 439.5,334.6 C441.8,334.3 444.2,333.1 446.5,332.7 C448.4,332.4 450.3,331.9 452.2,332.2 C454.1,332.5 455.9,333.1 457.8,334.6 C459.7,336.0 461.6,338.3 463.5,340.9 C465.4,343.5 467.2,346.8 469.1,350.1 C471.0,353.4 472.9,357.5 474.8,360.6 C476.6,363.8 478.5,367.0 480.4,369.1 C482.3,371.2 484.2,372.7 486.0,373.3 C487.4,373.8 488.9,374.1 490.3,373.6 C491.7,373.2 493.1,372.3 494.5,370.5 C495.9,368.7 497.3,365.2 498.7,362.8 C500.1,360.3 501.6,357.5 503.0,355.7 C504.4,353.9 505.8,352.7 507.2,352.2 C508.6,351.7 510.0,351.7 511.4,352.9 C512.8,354.1 514.2,356.5 515.7,359.2 C517.1,361.9 518.5,365.8 519.9,369.1 C521.3,372.4 522.7,376.4 524.1,379.0 C525.5,381.5 526.9,383.6 528.4,384.3 C529.5,384.9 530.7,384.8 531.9,383.9 C533.1,383.0 534.2,381.3 535.4,379.0 C536.8,376.2 538.2,371.7 539.6,367.7 C541.0,363.7 542.5,358.8 543.9,355.0 C545.3,351.2 546.7,348.1 548.1,345.1 C550.0,341.2 551.9,338.1 553.7,335.3 C555.6,332.4 557.5,329.6 559.4,328.2 C560.8,327.2 562.2,326.6 563.6,326.8 C565.0,327.0 566.4,328.0 567.8,329.6 C569.2,331.3 570.7,334.6 572.1,336.7 C574.0,339.5 575.8,342.2 577.7,343.7 C579.6,345.2 581.5,346.1 583.4,345.8 C586.9,345.3 590.5,336.4 594.1,333.9 C596.0,332.5 597.9,331.4 599.8,331.0 C601.2,330.8 602.6,330.6 604.0,331.3 C605.4,332.0 606.8,333.7 608.2,335.3 C609.6,336.9 611.0,339.4 612.4,340.9 C613.9,342.4 615.3,343.6 616.7,344.4 C618.5,345.5 620.4,345.5 622.3,345.8 C624.2,346.2 626.1,346.5 628.0,346.5 C629.8,346.5 631.7,346.7 633.6,345.8 C635.5,345.0 637.4,342.9 639.2,341.6 C641.1,340.3 643.0,338.8 644.9,338.1 C646.8,337.4 648.6,338.1 650.5,337.4 C652.4,336.7 654.3,335.3 656.2,333.9 C657.6,332.8 659.0,331.1 660.4,330.3 C661.8,329.5 663.2,328.9 664.6,328.9 C666.0,328.9 667.5,329.4 668.9,330.3 C670.3,331.3 671.7,333.2 673.1,334.6 C675.0,336.3 676.9,338.1 678.7,339.5 C680.6,340.9 682.5,342.3 684.4,343.0 C685.8,343.6 687.2,344.1 688.6,344.0 C690.0,343.9 691.4,343.1 692.8,342.3 C694.2,341.6 695.7,340.1 697.1,339.5 C698.5,338.9 699.9,338.3 701.3,338.8 C702.5,339.2 703.6,340.1 704.8,341.6 C706.0,343.1 707.2,345.2 708.4,347.9 C709.8,351.3 711.2,355.9 712.6,360.6 C714.0,365.4 715.4,372.2 716.8,376.2 C718.2,380.2 719.6,383.1 721.0,384.6 C722.0,385.7 722.9,386.1 723.9,386.0 C725.0,385.9 726.2,384.6 727.4,383.2 C729.0,381.3 730.7,377.6 732.3,374.8 C734.2,371.5 736.1,367.5 738.0,364.9 C739.9,362.3 741.7,360.4 743.6,359.2 C745.0,358.4 746.4,357.9 747.8,357.8 C749.2,357.7 750.7,358.3 752.1,358.5 C753.5,358.8 754.9,359.8 756.3,359.2 C757.7,358.7 759.1,357.1 760.5,355.0 C761.9,352.9 763.4,349.0 764.8,346.5 C767.9,341.0 771.0,336.5 774.1,334.6 C776.0,333.4 777.9,332.8 779.8,333.1 C781.2,333.4 782.6,333.5 784.0,335.3 C785.4,337.0 786.8,340.2 788.2,343.7 C789.6,347.2 791.0,352.8 792.4,356.4 C793.9,360.1 795.3,363.2 796.7,365.6 C798.1,367.9 799.5,369.6 800.9,370.5 C802.3,371.5 803.7,371.5 805.1,371.2 C806.5,371.0 808.0,370.4 809.4,369.1 C810.8,367.8 812.2,365.1 813.6,363.5 C815.5,361.2 817.4,359.6 819.2,357.8 C821.1,356.1 823.0,354.3 824.9,352.9 C826.8,351.5 828.6,350.3 830.5,349.4 C832.4,348.4 834.3,348.0 836.2,347.2 C838.0,346.5 839.9,346.2 841.8,345.1 C843.7,344.1 845.6,342.2 847.5,340.9 C849.3,339.6 851.2,338.3 853.1,337.4 C855.0,336.4 856.9,335.6 858.7,335.3 C860.1,335.0 861.6,335.0 863.0,335.3 C864.4,335.5 865.8,336.1 867.2,336.7 C869.1,337.4 871.0,338.9 872.8,339.5 C874.7,340.1 876.6,340.4 878.5,340.2 C880.4,340.0 882.2,338.9 884.1,338.1 C886.0,337.3 887.9,336.0 889.8,335.3 C891.6,334.5 893.5,333.7 895.4,333.6 C896.8,333.4 898.2,333.6 899.6,333.9 C901.5,334.2 903.4,335.0 905.3,336.0 C907.2,336.9 909.0,338.1 910.9,339.5 C912.8,340.9 914.7,343.1 916.6,344.4 C918.4,345.7 920.3,347.1 922.2,347.2 C924.1,347.4 926.0,346.0 927.8,345.1 C929.2,344.5 930.7,343.4 932.1,343.0 C933.5,342.6 934.9,342.2 936.3,342.6 C937.7,343.0 939.1,343.5 940.5,345.1 C941.9,346.7 943.4,349.9 944.8,352.2 C947.4,356.6 950.1,361.6 952.7,365.1 C954.1,367.0 955.5,368.9 956.9,370.1 C958.3,371.2 959.8,372.1 961.2,372.2 C962.6,372.3 964.0,371.4 965.4,370.8 C967.3,370.0 969.1,368.5 971.0,367.9 C972.9,367.4 974.8,367.2 976.7,367.2 C978.1,367.3 979.5,368.3 980.9,367.9 C982.3,367.6 983.7,366.3 985.1,365.1 C986.5,364.0 988.0,362.0 989.4,360.9 C990.8,359.8 992.2,359.0 993.6,358.8 C994.8,358.7 995.9,358.7 997.1,359.5 C998.3,360.3 999.5,362.1 1000.6,363.7 C1002.1,365.7 1003.5,368.8 1004.9,370.8 C1006.3,372.8 1007.7,374.8 1009.1,375.7 C1010.5,376.6 1011.9,377.0 1013.3,376.4 C1014.8,375.8 1016.2,373.7 1017.6,372.2 C1019.0,370.7 1020.4,368.2 1021.8,367.2 C1023.0,366.4 1024.2,366.0 1025.3,366.3 C1026.5,366.5 1027.7,367.5 1028.9,368.7 C1030.3,370.0 1031.7,373.0 1033.1,374.3 C1034.5,375.6 1035.9,376.3 1037.3,376.4 C1038.7,376.5 1040.1,375.8 1041.5,375.0 C1043.0,374.2 1044.4,372.4 1045.8,371.5 C1047.2,370.5 1048.6,369.3 1050.0,369.4 C1051.4,369.5 1052.8,370.8 1054.2,372.2 C1055.7,373.6 1057.1,376.1 1058.5,377.8 C1059.9,379.6 1061.3,381.5 1062.7,382.8 C1064.1,384.1 1065.5,384.8 1066.9,385.6 C1068.4,386.4 1069.8,387.0 1071.2,387.7 C1072.6,388.4 1074.0,389.4 1075.4,389.8 C1076.8,390.3 1078.2,390.9 1079.6,390.5 C1081.0,390.2 1082.5,389.1 1083.9,387.7 C1085.3,386.3 1086.7,384.1 1088.1,382.1 C1089.5,380.1 1090.9,377.7 1092.3,375.7 C1093.7,373.7 1095.1,371.7 1096.6,370.1 C1098.4,367.8 1100.3,366.3 1102.2,364.4 C1103.6,363.0 1105.0,361.3 1106.4,360.2 C1107.8,359.1 1109.2,358.3 1110.7,358.1 C1112.1,357.8 1113.5,358.2 1114.9,358.8 C1116.3,359.4 1117.7,361.1 1119.1,361.6 C1120.5,362.1 1122.0,362.1 1123.4,362.0 C1126.9,361.8 1130.5,358.5 1134.1,357.0 C1136.0,356.2 1137.9,355.4 1139.8,354.9 C1141.6,354.3 1143.5,353.8 1145.4,353.8 C1147.3,353.7 1149.2,354.3 1151.0,354.6 C1152.9,354.9 1154.8,355.6 1156.7,355.6 C1158.1,355.6 1159.5,355.6 1160.9,355.2 C1162.3,354.7 1163.7,353.7 1165.1,352.8 C1167.0,351.5 1168.9,349.8 1170.8,348.5 C1172.7,347.2 1174.5,345.8 1176.4,345.0 C1178.3,344.2 1180.2,343.7 1182.1,343.6 C1183.9,343.5 1185.8,344.1 1187.7,344.3 C1189.6,344.5 1191.5,344.8 1193.3,344.7 C1195.2,344.7 1197.1,344.4 1199.0,344.0 C1200.9,343.6 1202.7,342.9 1204.6,342.5 C1206.5,342.0 1208.4,341.6 1210.3,341.5 C1212.2,341.4 1214.0,341.4 1215.9,341.9 C1217.8,342.4 1219.7,343.7 1221.5,344.3 C1223.4,344.9 1225.3,345.9 1227.2,345.7 C1228.6,345.6 1230.0,345.4 1231.4,344.3 C1232.8,343.2 1234.2,341.1 1235.7,339.4 C1237.1,337.6 1238.5,335.5 1239.9,333.7 C1241.3,332.0 1242.7,330.2 1244.1,328.8 C1245.5,327.4 1246.9,326.3 1248.3,325.3 C1249.8,324.2 1251.2,323.3 1252.6,322.4 C1254.0,321.6 1255.4,320.7 1256.8,320.3 C1258.2,319.9 1259.6,319.7 1261.0,319.9 C1262.5,320.1 1263.9,320.7 1265.3,321.7 C1266.7,322.7 1268.1,324.7 1269.5,326.0 C1270.9,327.3 1272.3,328.6 1273.7,329.5 C1275.2,330.4 1276.6,330.9 1278.0,331.6 C1282.9,333.9 1287.8,336.1 1292.7,337.3 C1294.8,337.8 1296.9,337.6 1299.0,338.4 C1300.8,339.0 1302.6,340.3 1304.3,341.2 C1306.1,342.2 1307.9,343.4 1309.6,344.1 C1311.4,344.8 1313.1,344.9 1314.9,345.4 C1316.7,345.9 1318.4,346.3 1320.2,347.0 C1322.0,347.7 1323.7,349.0 1325.5,349.7 C1326.9,350.2 1328.3,350.7 1329.7,350.7 C1331.1,350.8 1332.5,350.5 1334.0,350.0 C1335.4,349.5 1336.8,348.4 1338.2,347.6 C1339.6,346.7 1341.0,345.5 1342.4,344.9 C1343.8,344.3 1345.2,343.9 1346.6,343.9 C1348.0,343.8 1349.5,344.1 1350.9,344.7 C1352.3,345.3 1353.7,346.4 1355.1,347.6 C1356.5,348.7 1357.9,350.3 1359.3,351.8 C1361.1,353.6 1362.9,355.7 1364.6,357.6 C1366.4,359.5 1368.2,361.7 1369.9,363.4 C1371.7,365.1 1373.4,366.2 1375.2,367.6 C1377.0,369.1 1378.7,370.8 1380.5,372.4 C1382.3,374.0 1384.0,375.5 1385.8,377.2 C1387.2,378.5 1388.6,380.5 1390.0,381.4 C1390.7,381.9 1391.4,381.8 1392.1,382.4 C1393.5,383.5 1395.0,386.3 1396.4,388.8 C1397.8,391.2 1399.2,394.4 1400.6,397.2 C1402.0,400.0 1403.4,403.0 1404.8,405.7 C1406.2,408.3 1407.6,411.2 1409.1,413.1 C1410.3,414.7 1411.5,415.5 1412.8,416.8" stroke="#7000f0"/>
<path d="M50.6,248.2 C54.1,246.1 57.6,244.0 61.2,241.9 C64.9,239.6 68.7,236.6 72.4,234.8 C76.7,232.8 80.9,230.8 85.1,231.0 C88.0,231.1 90.8,231.9 93.6,233.4 C96.4,234.9 99.2,237.5 102.1,239.8 C104.9,242.0 107.7,245.0 110.5,246.8 C113.3,248.6 116.2,249.3 119.0,250.3 C121.8,251.4 124.6,252.1 127.5,253.2 C130.3,254.2 133.1,255.7 135.9,256.4 C137.6,256.8 139.2,257.2 140.8,257.1 C143.0,257.0 145.1,256.2 147.2,255.3 C149.5,254.2 151.9,252.0 154.2,251.0 C156.1,250.3 158.0,249.6 159.9,249.6 C161.8,249.6 163.7,250.2 165.5,251.0 C167.9,252.0 170.2,254.4 172.6,255.5 C174.7,256.6 176.8,257.9 178.9,257.8 C180.6,257.7 182.2,257.3 183.9,256.0 C185.7,254.4 187.6,250.8 189.5,248.2 C191.4,245.6 193.3,242.6 195.2,240.4 C197.0,238.3 198.9,236.3 200.8,235.2 C202.7,234.2 204.6,234.3 206.4,234.1 C210.2,233.7 214.0,234.8 217.7,235.2 C225.5,236.1 233.3,235.7 241.2,238.3 C244.4,239.5 247.7,241.2 251.0,242.6 C253.8,243.7 256.7,245.1 259.5,245.8 C261.8,246.4 264.2,246.9 266.5,246.8 C268.9,246.7 271.2,245.8 273.6,245.4 C275.9,245.0 278.3,244.3 280.6,244.3 C283.0,244.3 285.3,244.9 287.7,245.4 C290.5,246.0 293.3,246.9 296.2,247.5 C299.0,248.1 301.8,248.4 304.6,248.9 C307.0,249.3 309.3,249.3 311.7,250.3 C313.6,251.1 315.4,251.9 317.3,253.8 C318.7,255.3 320.1,257.1 321.6,259.5 C323.0,261.8 324.4,265.4 325.8,267.9 C327.2,270.5 328.6,273.2 330.0,275.0 C331.4,276.8 332.8,278.1 334.2,278.5 C336.1,279.1 338.0,277.4 339.9,276.4 C342.2,275.2 344.6,272.9 346.9,271.5 C349.8,269.8 352.6,268.5 355.4,267.2 C357.8,266.2 360.1,264.8 362.4,264.4 C363.9,264.2 365.3,264.0 366.7,264.4 C368.1,264.9 369.5,265.7 370.9,267.2 C372.3,268.8 373.7,270.9 375.1,273.6 C376.6,276.3 378.0,280.3 379.4,283.5 C381.0,287.2 382.7,291.3 384.3,294.1 C386.0,296.7 387.6,298.6 389.2,299.7 C390.7,300.6 392.1,300.7 393.5,300.7 C394.9,300.6 396.3,299.7 397.7,299.4 C399.1,299.1 400.5,298.7 401.9,299.0 C403.7,299.3 405.4,300.6 407.2,302.0 C409.0,303.5 410.9,305.8 412.7,307.8 C415.0,310.3 417.4,313.4 419.8,315.5 C421.6,317.2 423.5,319.0 425.4,319.5 C426.8,319.8 428.2,319.3 429.6,319.0 C431.3,318.7 432.9,317.3 434.6,317.6 C436.2,318.0 437.8,319.4 439.5,321.2 C441.4,323.2 443.2,326.7 445.1,329.6 C447.0,332.6 448.9,336.3 450.8,338.8 C452.7,341.3 454.5,342.8 456.4,344.4 C458.3,346.1 460.2,347.7 462.1,348.7 C463.3,349.3 464.6,348.8 465.9,350.0 C467.2,351.2 468.6,353.9 469.9,355.9 C471.2,357.8 472.5,359.8 473.8,361.8 C475.1,363.8 476.5,365.9 477.8,367.8 C479.1,369.7 480.4,371.3 481.7,373.2 C482.7,374.6 483.7,375.8 484.7,377.6 C485.7,379.3 486.6,381.5 487.6,383.6 C488.3,385.0 488.9,386.4 489.6,388.0 C490.3,389.6 490.9,391.7 491.6,393.4 C492.3,395.1 492.9,396.7 493.6,398.4 C494.2,400.0 494.9,401.8 495.5,403.3 C496.2,404.8 496.8,406.2 497.5,407.3 C498.2,408.4 498.8,409.3 499.5,410.0 C500.2,410.7 500.8,411.3 501.5,411.7 C502.1,412.1 502.8,412.3 503.4,412.5 C504.7,412.9 506.1,412.7 507.4,412.7 C508.8,412.7 510.1,412.4 511.5,412.2" stroke="#aa00c8"/>
</g>
<text x="27.1" y="550.1" class="ax" textLength="11.1" lengthAdjust="spacingAndGlyphs">55</text>
<text x="27.1" y="501.5" class="ax" textLength="11.1" lengthAdjust="spacingAndGlyphs">60</text>
<text x="27.1" y="453.0" class="ax" textLength="11.1" lengthAdjust="spacingAndGlyphs">65</text>
<text x="27.1" y="404.4" class="ax" textLength="11.1" lengthAdjust="spacingAndGlyphs">70</text>
<text x="27.1" y="355.9" class="ax" textLength="11.1" lengthAdjust="spacingAndGlyphs">75</text>
<text x="27.1" y="307.3" class="ax" textLength="11.1" lengthAdjust="spacingAndGlyphs">80</text>
<text x="27.1" y="258.8" class="ax" textLength="11.1" lengthAdjust="spacingAndGlyphs">85</text>
<text x="27.1" y="210.2" class="ax" textLength="11.1" lengthAdjust="spacingAndGlyphs">90</text>
<text x="27.1" y="161.7" class="ax" textLength="11.1" lengthAdjust="spacingAndGlyphs">95</text>
<text x="21.2" y="113.1" class="ax" textLength="17.0" lengthAdjust="spacingAndGlyphs">100</text>
<text x="36.0" y="610.5" class="ax" textLength="11.1" lengthAdjust="spacingAndGlyphs">18</text>
<text x="56.5" y="610.5" class="ax" textLength="11.1" lengthAdjust="spacingAndGlyphs">20</text>
<text x="135.4" y="610.5" class="ax" textLength="11.1" lengthAdjust="spacingAndGlyphs">30</text>
<text x="191.4" y="610.5" class="ax" textLength="11.1" lengthAdjust="spacingAndGlyphs">40</text>
<text x="235.4" y="610.5" class="ax" textLength="11.1" lengthAdjust="spacingAndGlyphs">50</text>
<text x="271.4" y="610.5" class="ax" textLength="11.1" lengthAdjust="spacingAndGlyphs">60</text>
<text x="301.4" y="610.5" class="ax" textLength="11.1" lengthAdjust="spacingAndGlyphs">70</text>
<text x="327.4" y="610.5" class="ax" textLength="11.1" lengthAdjust="spacingAndGlyphs">80</text>
<text x="350.4" y="610.5" class="ax" textLength="11.1" lengthAdjust="spacingAndGlyphs">90</text>
<text x="368.5" y="610.5" class="ax" textLength="17.0" lengthAdjust="spacingAndGlyphs">100</text>
<text x="503.5" y="610.5" class="ax" textLength="17.0" lengthAdjust="spacingAndGlyphs">200</text>
<text x="583.5" y="610.5" class="ax" textLength="17.0" lengthAdjust="spacingAndGlyphs">300</text>
<text x="639.5" y="610.5" class="ax" textLength="17.0" lengthAdjust="spacingAndGlyphs">400</text>
<text x="683.5" y="610.5" class="ax" textLength="17.0" lengthAdjust="spacingAndGlyphs">500</text>
<text x="719.5" y="610.5" class="ax" textLength="17.0" lengthAdjust="spacingAndGlyphs">600</text>
<text x="749.5" y="610.5" class="ax" textLength="17.0" lengthAdjust="spacingAndGlyphs">700</text>
<text x="775.5" y="610.5" class="ax" textLength="17.0" lengthAdjust="spacingAndGlyphs">800</text>
<text x="798.5" y="610.5" class="ax" textLength="17.0" lengthAdjust="spacingAndGlyphs">900</text>
<text x="822.1" y="610.5" class="ax" textLength="11.7" lengthAdjust="spacingAndGlyphs">1k</text>
<text x="957.1" y="610.5" class="ax" textLength="11.7" lengthAdjust="spacingAndGlyphs">2k</text>
<text x="1037.2" y="610.5" class="ax" textLength="11.7" lengthAdjust="spacingAndGlyphs">3k</text>
<text x="1093.2" y="610.5" class="ax" textLength="11.7" lengthAdjust="spacingAndGlyphs">4k</text>
<text x="1137.2" y="610.5" class="ax" textLength="11.7" lengthAdjust="spacingAndGlyphs">5k</text>
<text x="1172.2" y="610.5" class="ax" textLength="11.7" lengthAdjust="spacingAndGlyphs">6k</text>
<text x="1202.2" y="610.5" class="ax" textLength="11.7" lengthAdjust="spacingAndGlyphs">7k</text>
<text x="1229.2" y="610.5" class="ax" textLength="11.7" lengthAdjust="spacingAndGlyphs">8k</text>
<text x="1252.2" y="610.5" class="ax" textLength="11.7" lengthAdjust="spacingAndGlyphs">9k</text>
<text x="1269.2" y="610.5" class="ax" textLength="17.6" lengthAdjust="spacingAndGlyphs">10k</text>
<text x="1304.7" y="610.5" class="ax g" textLength="17.6" lengthAdjust="spacingAndGlyphs">12k</text>
<text x="1334.7" y="610.5" class="ax g" textLength="17.6" lengthAdjust="spacingAndGlyphs">14k</text>
<text x="1360.7" y="610.5" class="ax g" textLength="17.6" lengthAdjust="spacingAndGlyphs">16k</text>
<rect x="6.5" y="52.5" width="32" height="16" fill="#fff" stroke="#0000ff" shape-rendering="crispEdges"/>
<text x="9.9" y="66" font-size="12.5" fill="#0000ff" textLength="26.3" lengthAdjust="spacingAndGlyphs">105,0</text>
<rect x="1397.5" y="597.5" width="31" height="16" fill="#fff" stroke="#0000ff" shape-rendering="crispEdges"/>
<text x="1400.6" y="610.5" font-size="12.5" fill="#0000ff" textLength="26" lengthAdjust="spacingAndGlyphs">20,0k</text>
<rect x="12.5" y="627.5" width="13" height="13" rx="3" fill="#fff" stroke="#0f80ff" stroke-width="1.2"/>
<path d="M14.9,634.4 L17.4,637.5 L22.7,630.1" fill="none" stroke="#0f80ff" stroke-width="1.9"/>
<text x="32.6" y="639.2" class="lg" fill="#b00000" stroke="#b00000" textLength="108.8" lengthAdjust="spacingAndGlyphs">1: Target nov. 9 21:11</text>
<line x1="197" x2="246" y1="635" y2="635" stroke="#b00000" stroke-width="2" stroke-linecap="round"/>
<rect x="207" y="627" width="29" height="16" rx="3" fill="#fff" stroke="#b00000" stroke-width="2"/>
<path d="M213.9,632.4 l2.5,-1.6 v7.4" fill="none" stroke="#222" stroke-width="1.15"/><line x1="224.4" y1="628.7" x2="217" y2="641.1" stroke="#222" stroke-width="1.1"/><text x="225.8" y="640.7" font-size="9.4" fill="#222">6</text>
<text x="293.2" y="639.2" class="lg" fill="#b00000" stroke="#b00000" textLength="37.4" lengthAdjust="spacingAndGlyphs">75,1 dB</text>
<rect x="12.5" y="648.5" width="13" height="13" rx="3" fill="#fff" stroke="#0f80ff" stroke-width="1.2"/>
<path d="M14.9,655.4 L17.4,658.5 L22.7,651.1" fill="none" stroke="#0f80ff" stroke-width="1.9"/>
<text x="32.6" y="660.2" class="lg" fill="#e67800" stroke="#e67800" textLength="71.5" lengthAdjust="spacingAndGlyphs">4: R R août 29</text>
<line x1="197" x2="246" y1="656" y2="656" stroke="#e67800" stroke-width="2" stroke-linecap="round"/>
<rect x="207" y="648" width="29" height="16" rx="3" fill="#fff" stroke="#e67800" stroke-width="2"/>
<path d="M213.9,653.4 l2.5,-1.6 v7.4" fill="none" stroke="#222" stroke-width="1.15"/><line x1="224.4" y1="649.7" x2="217" y2="662.1" stroke="#222" stroke-width="1.1"/><text x="225.8" y="661.7" font-size="9.4" fill="#222">6</text>
<text x="293.2" y="660.2" class="lg" fill="#e67800" stroke="#e67800" textLength="37.4" lengthAdjust="spacingAndGlyphs">67,0 dB</text>
<rect x="12.5" y="669.5" width="13" height="13" rx="3" fill="#fff" stroke="#0f80ff" stroke-width="1.2"/>
<path d="M14.9,676.4 L17.4,679.5 L22.7,672.1" fill="none" stroke="#0f80ff" stroke-width="1.9"/>
<text x="32.6" y="681.2" class="lg" fill="#8c4600" stroke="#8c4600" textLength="76.8" lengthAdjust="spacingAndGlyphs">7: R SR août 29</text>
<line x1="197" x2="246" y1="677" y2="677" stroke="#8c4600" stroke-width="2" stroke-linecap="round"/>
<rect x="207" y="669" width="29" height="16" rx="3" fill="#fff" stroke="#8c4600" stroke-width="2"/>
<path d="M213.9,674.4 l2.5,-1.6 v7.4" fill="none" stroke="#222" stroke-width="1.15"/><line x1="224.4" y1="670.7" x2="217" y2="683.1" stroke="#222" stroke-width="1.1"/><text x="225.8" y="682.7" font-size="9.4" fill="#222">6</text>
<text x="293.2" y="681.2" class="lg" fill="#8c4600" stroke="#8c4600" textLength="37.4" lengthAdjust="spacingAndGlyphs">67,8 dB</text>
<rect x="12.5" y="690.5" width="13" height="13" rx="3" fill="#fff" stroke="#0f80ff" stroke-width="1.2"/>
<path d="M14.9,697.4 L17.4,700.5 L22.7,693.1" fill="none" stroke="#0f80ff" stroke-width="1.9"/>
<text x="32.6" y="702.2" class="lg" fill="#aa00c8" stroke="#aa00c8" textLength="98.8" lengthAdjust="spacingAndGlyphs">10: LFE LFE août 29</text>
<line x1="197" x2="246" y1="698" y2="698" stroke="#aa00c8" stroke-width="2" stroke-linecap="round"/>
<rect x="207" y="690" width="29" height="16" rx="3" fill="#fff" stroke="#aa00c8" stroke-width="2"/>
<path d="M213.9,695.4 l2.5,-1.6 v7.4" fill="none" stroke="#222" stroke-width="1.15"/><line x1="224.4" y1="691.7" x2="217" y2="704.1" stroke="#222" stroke-width="1.1"/><text x="225.8" y="703.7" font-size="9.4" fill="#222">6</text>
<text x="317.2" y="702.2" class="lg" fill="#aa00c8" stroke="#aa00c8" textLength="13.4" lengthAdjust="spacingAndGlyphs">dB</text>
<rect x="369.5" y="627.5" width="13" height="13" rx="3" fill="#fff" stroke="#0f80ff" stroke-width="1.2"/>
<path d="M371.9,634.4 L374.4,637.5 L379.7,630.1" fill="none" stroke="#0f80ff" stroke-width="1.9"/>
<text x="389.6" y="639.2" class="lg" fill="#006432" stroke="#006432" clip-path="url(#c2)" textLength="188.3" lengthAdjust="spacingAndGlyphs">2: Target Target Target Target Target</text>
<line x1="554" x2="603" y1="635" y2="635" stroke="#006432" stroke-width="2" stroke-linecap="round"/>
<rect x="564" y="627" width="29" height="16" rx="3" fill="#fff" stroke="#006432" stroke-width="2"/>
<path d="M570.9,632.4 l2.5,-1.6 v7.4" fill="none" stroke="#222" stroke-width="1.15"/><line x1="581.4" y1="628.7" x2="574" y2="641.1" stroke="#222" stroke-width="1.1"/><text x="582.8" y="640.7" font-size="9.4" fill="#222">6</text>
<text x="645.4" y="639.2" class="lg" fill="#006432" stroke="#006432" textLength="42.2" lengthAdjust="spacingAndGlyphs">-97,9 dB</text>
<rect x="369.5" y="648.5" width="13" height="13" rx="3" fill="#fff" stroke="#0f80ff" stroke-width="1.2"/>
<path d="M371.9,655.4 L374.4,658.5 L379.7,651.1" fill="none" stroke="#0f80ff" stroke-width="1.9"/>
<text x="389.6" y="660.2" class="lg" fill="#00a000" stroke="#00a000" textLength="73.2" lengthAdjust="spacingAndGlyphs">5: C C août 29</text>
<line x1="554" x2="603" y1="656" y2="656" stroke="#00a000" stroke-width="2" stroke-linecap="round"/>
<rect x="564" y="648" width="29" height="16" rx="3" fill="#fff" stroke="#00a000" stroke-width="2"/>
<path d="M570.9,653.4 l2.5,-1.6 v7.4" fill="none" stroke="#222" stroke-width="1.15"/><line x1="581.4" y1="649.7" x2="574" y2="662.1" stroke="#222" stroke-width="1.1"/><text x="582.8" y="661.7" font-size="9.4" fill="#222">6</text>
<text x="650.2" y="660.2" class="lg" fill="#00a000" stroke="#00a000" textLength="37.4" lengthAdjust="spacingAndGlyphs">68,6 dB</text>
<rect x="369.5" y="669.5" width="13" height="13" rx="3" fill="#fff" stroke="#0f80ff" stroke-width="1.2"/>
<path d="M371.9,676.4 L374.4,679.5 L379.7,672.1" fill="none" stroke="#0f80ff" stroke-width="1.9"/>
<text x="389.6" y="681.2" class="lg" fill="#008080" stroke="#008080" textLength="82.0" lengthAdjust="spacingAndGlyphs">8: L SBL août 29</text>
<line x1="554" x2="603" y1="677" y2="677" stroke="#008080" stroke-width="2" stroke-linecap="round"/>
<rect x="564" y="669" width="29" height="16" rx="3" fill="#fff" stroke="#008080" stroke-width="2"/>
<path d="M570.9,674.4 l2.5,-1.6 v7.4" fill="none" stroke="#222" stroke-width="1.15"/><line x1="581.4" y1="670.7" x2="574" y2="683.1" stroke="#222" stroke-width="1.1"/><text x="582.8" y="682.7" font-size="9.4" fill="#222">6</text>
<text x="650.2" y="681.2" class="lg" fill="#008080" stroke="#008080" textLength="37.4" lengthAdjust="spacingAndGlyphs">66,7 dB</text>
<rect x="726.5" y="627.5" width="13" height="13" rx="3" fill="#fff" stroke="#0f80ff" stroke-width="1.2"/>
<path d="M728.9,634.4 L731.4,637.5 L736.7,630.1" fill="none" stroke="#0f80ff" stroke-width="1.9"/>
<text x="746.6" y="639.2" class="lg" fill="#4038d4" stroke="#4038d4" textLength="69.1" lengthAdjust="spacingAndGlyphs">3: L L août 29</text>
<line x1="911" x2="960" y1="635" y2="635" stroke="#4038d4" stroke-width="2" stroke-linecap="round"/>
<rect x="921" y="627" width="29" height="16" rx="3" fill="#fff" stroke="#4038d4" stroke-width="2"/>
<path d="M927.9,632.4 l2.5,-1.6 v7.4" fill="none" stroke="#222" stroke-width="1.15"/><line x1="938.4" y1="628.7" x2="931" y2="641.1" stroke="#222" stroke-width="1.1"/><text x="939.8" y="640.7" font-size="9.4" fill="#222">6</text>
<text x="1007.2" y="639.2" class="lg" fill="#4038d4" stroke="#4038d4" textLength="37.4" lengthAdjust="spacingAndGlyphs">67,0 dB</text>
<rect x="726.5" y="648.5" width="13" height="13" rx="3" fill="#fff" stroke="#0f80ff" stroke-width="1.2"/>
<path d="M728.9,655.4 L731.4,658.5 L736.7,651.1" fill="none" stroke="#0f80ff" stroke-width="1.9"/>
<text x="746.6" y="660.2" class="lg" fill="#0064cc" stroke="#0064cc" textLength="75.4" lengthAdjust="spacingAndGlyphs">6: L SL août 29</text>
<line x1="911" x2="960" y1="656" y2="656" stroke="#0064cc" stroke-width="2" stroke-linecap="round"/>
<rect x="921" y="648" width="29" height="16" rx="3" fill="#fff" stroke="#0064cc" stroke-width="2"/>
<path d="M927.9,653.4 l2.5,-1.6 v7.4" fill="none" stroke="#222" stroke-width="1.15"/><line x1="938.4" y1="649.7" x2="931" y2="662.1" stroke="#222" stroke-width="1.1"/><text x="939.8" y="661.7" font-size="9.4" fill="#222">6</text>
<text x="1007.2" y="660.2" class="lg" fill="#0064cc" stroke="#0064cc" textLength="37.4" lengthAdjust="spacingAndGlyphs">65,4 dB</text>
<rect x="726.5" y="669.5" width="13" height="13" rx="3" fill="#fff" stroke="#0f80ff" stroke-width="1.2"/>
<path d="M728.9,676.4 L731.4,679.5 L736.7,672.1" fill="none" stroke="#0f80ff" stroke-width="1.9"/>
<text x="746.6" y="681.2" class="lg" fill="#7000f0" stroke="#7000f0" textLength="84.2" lengthAdjust="spacingAndGlyphs">9: R SBR août 29</text>
<line x1="911" x2="960" y1="677" y2="677" stroke="#7000f0" stroke-width="2" stroke-linecap="round"/>
<rect x="921" y="669" width="29" height="16" rx="3" fill="#fff" stroke="#7000f0" stroke-width="2"/>
<path d="M927.9,674.4 l2.5,-1.6 v7.4" fill="none" stroke="#222" stroke-width="1.15"/><line x1="938.4" y1="670.7" x2="931" y2="683.1" stroke="#222" stroke-width="1.1"/><text x="939.8" y="682.7" font-size="9.4" fill="#222">6</text>
<text x="1007.2" y="681.2" class="lg" fill="#7000f0" stroke="#7000f0" textLength="37.4" lengthAdjust="spacingAndGlyphs">68,2 dB</text>
</svg>
</body></html>
